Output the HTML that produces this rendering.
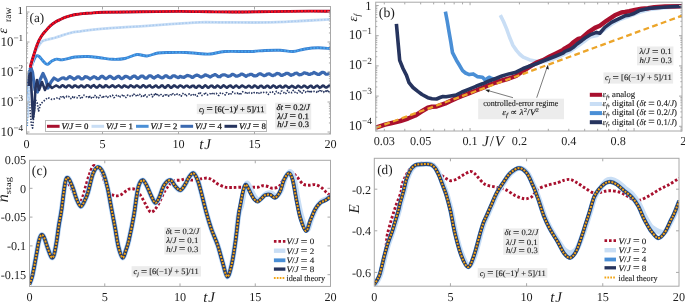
<!DOCTYPE html>
<html><head><meta charset="utf-8"><style>
html,body{margin:0;padding:0;background:#fff;}
body{width:685px;height:302px;overflow:hidden;font-family:"Liberation Serif",serif;}
svg{display:block;will-change:transform;text-rendering:geometricPrecision;}
</style></head><body>
<svg width="685" height="302" viewBox="0 0 685 302" font-family="Liberation Serif">
<rect width="685" height="302" fill="#fff"/>
<clipPath id="ca"><rect x="26.5" y="6.5" width="304.0" height="127.5"/></clipPath>
<g clip-path="url(#ca)">
<path d="M27.50,100.00 L28.50,92.00 L30.00,110.00 L31.50,125.00 L32.60,128.00 L33.80,115.00 L35.50,100.00 L37.20,103.00 L38.60,111.00 L40.50,104.00 L43.90,101.00 L47.80,97.60 L52.00,99.50 L56.00,98.50 L58.00,97.50 L58.80,98.11 L59.60,98.84 L60.40,97.00 L61.20,96.89 L62.00,96.41 L62.80,95.89 L63.60,98.50 L64.40,97.66 L65.20,97.46 L66.00,97.61 L66.80,96.19 L67.60,96.72 L68.40,96.48 L69.20,96.79 L70.00,97.24 L70.80,98.55 L71.60,96.98 L72.40,97.23 L73.20,96.28 L74.00,97.60 L74.80,97.11 L75.60,97.54 L76.40,97.44 L77.20,97.83 L78.00,96.71 L78.80,95.92 L79.60,95.88 L80.40,97.83 L81.20,98.87 L82.00,97.90 L82.80,95.97 L83.60,95.32 L84.40,95.30 L85.20,96.00 L86.00,96.50 L86.80,96.93 L87.60,97.82 L88.40,97.53 L89.20,95.47 L90.00,96.98 L90.80,96.58 L91.60,97.99 L92.40,98.52 L93.20,98.18 L94.00,95.57 L94.80,95.50 L95.60,96.16 L96.40,97.49 L97.20,96.50 L98.00,97.14 L98.80,97.78 L99.60,95.50 L100.40,95.51 L101.20,95.54 L102.00,96.92 L102.80,98.12 L103.60,96.75 L104.40,97.34 L105.20,96.51 L106.00,96.25 L106.80,95.91 L107.60,97.38 L108.40,96.91 L109.20,97.06 L110.00,96.09 L110.80,96.39 L111.60,95.40 L112.40,95.29 L113.20,95.84 L114.00,97.54 L114.80,97.27 L115.60,96.82 L116.40,95.39 L117.20,95.28 L118.00,95.01 L118.80,96.89 L119.60,96.05 L120.40,96.81 L121.20,96.68 L122.00,95.77 L122.80,94.39 L123.60,95.13 L124.40,97.12 L125.20,97.19 L126.00,97.44 L126.80,96.67 L127.60,95.12 L128.40,95.88 L129.20,96.09 L130.00,96.06 L130.80,96.52 L131.60,95.62 L132.40,95.49 L133.20,95.95 L134.00,94.20 L134.80,95.73 L135.60,95.56 L136.40,95.82 L137.20,96.56 L138.00,94.95 L138.80,93.96 L139.60,94.21 L140.40,95.85 L141.20,96.46 L142.00,95.54 L142.80,95.51 L143.60,96.17 L144.40,94.14 L145.20,94.96 L146.00,95.37 L146.80,96.79 L147.60,96.57 L148.40,96.40 L149.20,95.08 L150.00,93.92 L150.80,94.13 L151.60,94.66 L152.40,96.80 L153.20,95.42 L154.00,94.64 L154.80,95.73 L155.60,93.80 L156.40,95.50 L157.20,94.64 L158.00,96.00 L158.80,95.47 L159.60,96.02 L160.40,94.81 L161.20,94.56 L162.00,95.19 L162.80,96.18 L163.60,95.66 L164.40,96.05 L165.20,95.02 L166.00,93.60 L166.80,94.83 L167.60,94.81 L168.40,96.03 L169.20,95.28 L170.00,95.72 L170.80,94.82 L171.60,94.64 L172.40,93.21 L173.20,94.28 L174.00,95.33 L174.80,94.89 L175.60,95.55 L176.40,95.13 L177.20,93.85 L178.00,94.25 L178.80,94.77 L179.60,94.74 L180.40,95.32 L181.20,96.22 L182.00,94.10 L182.80,93.69 L183.60,93.04 L184.40,93.96 L185.20,94.58 L186.00,96.34 L186.80,95.46 L187.60,94.95 L188.40,94.63 L189.20,94.02 L190.00,95.36 L190.80,95.26 L191.60,95.16 L192.40,95.68 L193.20,94.78 L194.00,94.41 L194.80,93.70 L195.60,95.01 L196.40,94.93 L197.20,96.16 L198.00,95.40 L198.80,93.34 L199.60,94.24 L200.40,93.05 L201.20,93.63 L202.00,95.48 L202.80,94.58 L203.60,94.37 L204.40,93.83 L205.20,92.32 L206.00,94.12 L206.80,93.95 L207.60,94.80 L208.40,94.49 L209.20,94.58 L210.00,93.84 L210.80,92.70 L211.60,92.80 L212.40,93.96 L213.20,94.65 L214.00,93.76 L214.80,93.17 L215.60,93.67 L216.40,93.42 L217.20,94.50 L218.00,95.28 L218.80,95.47 L219.60,94.15 L220.40,92.95 L221.20,92.59 L222.00,92.85 L222.80,93.57 L223.60,94.36 L224.40,94.30 L225.20,94.90 L226.00,92.96 L226.80,92.72 L227.60,93.61 L228.40,94.10 L229.20,93.81 L230.00,93.93 L230.80,94.59 L231.60,92.19 L232.40,91.89 L233.20,92.83 L234.00,93.53 L234.80,93.48 L235.60,93.39 L236.40,93.16 L237.20,93.48 L238.00,92.41 L238.80,93.66 L239.60,94.00 L240.40,95.04 L241.20,93.20 L242.00,92.89 L242.80,91.75 L243.60,92.20 L244.40,92.32 L245.20,92.50 L246.00,94.09 L246.80,93.14 L247.60,92.92 L248.40,92.01 L249.20,92.81 L250.00,92.43 L250.80,92.89 L251.60,92.99 L252.40,93.63 L253.20,93.31 L254.00,92.66 L254.80,92.91 L255.60,93.17 L256.40,92.82 L257.20,93.07 L258.00,94.09 L258.80,93.40 L259.60,92.13 L260.40,92.64 L261.20,92.62 L262.00,92.85 L262.80,93.02 L263.60,92.41 L264.40,92.88 L265.20,92.72 L266.00,92.70 L266.80,92.42 L267.60,93.57 L268.40,94.41 L269.20,93.79 L270.00,92.56 L270.80,91.58 L271.60,91.84 L272.40,91.79 L273.20,92.55 L274.00,93.78 L274.80,93.93 L275.60,92.22 L276.40,91.41 L277.20,91.43 L278.00,92.33 L278.80,93.72 L279.60,93.16 L280.40,93.64 L281.20,91.22 L282.00,91.07 L282.80,91.71 L283.60,92.22 L284.40,93.75 L285.20,93.75 L286.00,93.35 L286.80,91.91 L287.60,90.36 L288.40,91.76 L289.20,92.46 L290.00,92.94 L290.80,92.48 L291.60,92.68 L292.40,92.30 L293.20,90.37 L294.00,91.90 L294.80,92.07 L295.60,92.89 L296.40,93.52 L297.20,92.94 L298.00,91.56 L298.80,90.44 L299.60,92.36 L300.40,91.66 L301.20,92.53 L302.00,93.20 L302.80,91.42 L303.60,90.62 L304.40,91.85 L305.20,92.37 L306.00,91.89 L306.80,92.43 L307.60,91.90 L308.40,90.82 L309.20,90.39 L310.00,91.81 L310.80,90.61 L311.60,91.66 L312.40,91.91 L313.20,91.28 L314.00,91.38 L314.80,91.21 L315.60,91.44 L316.40,91.68 L317.20,92.78 L318.00,91.38 L318.80,91.47 L319.60,92.02 L320.40,89.69 L321.20,90.23 L322.00,91.35 L322.80,91.62 L323.60,92.31 L324.40,90.78 L325.20,90.34 L326.00,91.32 L326.80,89.92 L327.60,92.17 L328.40,91.36 L329.20,93.04 L330.00,91.80" fill="none" stroke="#26345e" stroke-width="1.7" stroke-linejoin="round" stroke-dasharray="1.4 1.5"/>
<path d="M27.3,126 L27.6,100 L28.4,80 L29.3,68" fill="none" stroke="#4a8fd6" stroke-width="1.6" stroke-linejoin="round" stroke-dasharray="1.3 1.3"/>
<path d="M28.20,100.00 C28.37,97.50 28.90,88.67 29.20,85.00 C29.50,81.33 29.65,80.98 30.00,78.00 C30.35,75.02 30.65,70.13 31.30,67.10 C31.95,64.07 33.02,61.68 33.90,59.80 C34.78,57.92 35.72,56.35 36.60,55.80 C37.48,55.25 38.10,55.62 39.20,56.50 C40.30,57.38 41.87,59.78 43.20,61.10 C44.53,62.42 45.77,64.40 47.20,64.40 C48.63,64.40 50.25,61.98 51.80,61.10 C53.35,60.22 54.73,59.32 56.50,59.10 C58.27,58.88 59.32,60.15 62.40,59.80 C65.48,59.45 70.73,57.55 75.00,57.00 C79.27,56.45 83.83,56.37 88.00,56.50 C92.17,56.63 95.83,57.33 100.00,57.80 C104.17,58.27 108.83,59.18 113.00,59.30 C117.17,59.42 121.00,59.30 125.00,58.50 C129.00,57.70 133.33,54.92 137.00,54.50 C140.67,54.08 143.50,56.25 147.00,56.00 C150.50,55.75 154.17,53.58 158.00,53.00 C161.83,52.42 165.33,52.58 170.00,52.50 C174.67,52.42 181.33,52.33 186.00,52.50 C190.67,52.67 194.00,53.25 198.00,53.50 C202.00,53.75 205.50,54.33 210.00,54.00 C214.50,53.67 218.33,51.92 225.00,51.50 C231.67,51.08 243.33,51.67 250.00,51.50 C256.67,51.33 260.00,50.70 265.00,50.50 C270.00,50.30 275.33,50.13 280.00,50.30 C284.67,50.47 288.83,51.72 293.00,51.50 C297.17,51.28 300.83,49.62 305.00,49.00 C309.17,48.38 313.83,47.88 318.00,47.80 C322.17,47.72 328.00,48.38 330.00,48.50" fill="none" stroke="#3d82d2" stroke-width="2.9" stroke-linejoin="round" />
<path d="M28.20,100.00 C28.37,97.50 28.90,88.67 29.20,85.00 C29.50,81.33 29.65,80.98 30.00,78.00 C30.35,75.02 30.65,70.13 31.30,67.10 C31.95,64.07 33.02,61.68 33.90,59.80 C34.78,57.92 35.72,56.35 36.60,55.80 C37.48,55.25 38.10,55.62 39.20,56.50 C40.30,57.38 41.87,59.78 43.20,61.10 C44.53,62.42 45.77,64.40 47.20,64.40 C48.63,64.40 50.25,61.98 51.80,61.10 C53.35,60.22 54.73,59.32 56.50,59.10 C58.27,58.88 59.32,60.15 62.40,59.80 C65.48,59.45 70.73,57.55 75.00,57.00 C79.27,56.45 83.83,56.37 88.00,56.50 C92.17,56.63 95.83,57.33 100.00,57.80 C104.17,58.27 108.83,59.18 113.00,59.30 C117.17,59.42 121.00,59.30 125.00,58.50 C129.00,57.70 133.33,54.92 137.00,54.50 C140.67,54.08 143.50,56.25 147.00,56.00 C150.50,55.75 154.17,53.58 158.00,53.00 C161.83,52.42 165.33,52.58 170.00,52.50 C174.67,52.42 181.33,52.33 186.00,52.50 C190.67,52.67 194.00,53.25 198.00,53.50 C202.00,53.75 205.50,54.33 210.00,54.00 C214.50,53.67 218.33,51.92 225.00,51.50 C231.67,51.08 243.33,51.67 250.00,51.50 C256.67,51.33 260.00,50.70 265.00,50.50 C270.00,50.30 275.33,50.13 280.00,50.30 C284.67,50.47 288.83,51.72 293.00,51.50 C297.17,51.28 300.83,49.62 305.00,49.00 C309.17,48.38 313.83,47.88 318.00,47.80 C322.17,47.72 328.00,48.38 330.00,48.50" fill="none" stroke="#45a8f0" stroke-width="1.7" stroke-linejoin="round" stroke-dasharray="1.7 1.6"/>
<path d="M27.60,118.00 C27.75,114.67 28.10,104.67 28.50,98.00 C28.90,91.33 29.43,83.50 30.00,78.00 C30.57,72.50 31.13,69.13 31.90,65.00 C32.67,60.87 33.48,56.38 34.60,53.20 C35.72,50.02 37.28,47.90 38.60,45.90 C39.92,43.90 40.97,42.27 42.50,41.20 C44.03,40.13 45.58,40.12 47.80,39.50 C50.02,38.88 53.63,38.12 55.80,37.50 C57.97,36.88 58.32,36.58 60.80,35.80 C63.28,35.02 67.40,33.55 70.70,32.80 C74.00,32.05 76.80,31.83 80.60,31.30 C84.40,30.77 88.60,30.12 93.50,29.60 C98.40,29.08 102.25,28.75 110.00,28.20 C117.75,27.65 130.00,26.97 140.00,26.30 C150.00,25.63 162.33,24.73 170.00,24.20 C177.67,23.67 181.00,23.42 186.00,23.10 C191.00,22.78 192.67,22.42 200.00,22.30 C207.33,22.18 219.00,22.38 230.00,22.40 C241.00,22.42 254.33,22.63 266.00,22.40 C277.67,22.17 289.33,21.50 300.00,21.00 C310.67,20.50 325.00,19.67 330.00,19.40" fill="none" stroke="#c9def5" stroke-width="2.8" stroke-linejoin="round" />
<path d="M27.60,118.00 C27.75,114.67 28.10,104.67 28.50,98.00 C28.90,91.33 29.43,83.50 30.00,78.00 C30.57,72.50 31.13,69.13 31.90,65.00 C32.67,60.87 33.48,56.38 34.60,53.20 C35.72,50.02 37.28,47.90 38.60,45.90 C39.92,43.90 40.97,42.27 42.50,41.20 C44.03,40.13 45.58,40.12 47.80,39.50 C50.02,38.88 53.63,38.12 55.80,37.50 C57.97,36.88 58.32,36.58 60.80,35.80 C63.28,35.02 67.40,33.55 70.70,32.80 C74.00,32.05 76.80,31.83 80.60,31.30 C84.40,30.77 88.60,30.12 93.50,29.60 C98.40,29.08 102.25,28.75 110.00,28.20 C117.75,27.65 130.00,26.97 140.00,26.30 C150.00,25.63 162.33,24.73 170.00,24.20 C177.67,23.67 181.00,23.42 186.00,23.10 C191.00,22.78 192.67,22.42 200.00,22.30 C207.33,22.18 219.00,22.38 230.00,22.40 C241.00,22.42 254.33,22.63 266.00,22.40 C277.67,22.17 289.33,21.50 300.00,21.00 C310.67,20.50 325.00,19.67 330.00,19.40" fill="none" stroke="#a9caf0" stroke-width="1.6" stroke-linejoin="round" stroke-dasharray="1.6 1.7"/>
<path d="M28.60,84.00 L29.50,72.00 L31.00,68.00 L32.50,72.00 L35.00,90.00 L37.50,92.00 L40.00,80.00 L43.00,73.50 L46.00,80.00 L48.00,88.00 L51.00,82.00 L54.00,78.00 L58.00,80.50 L62.00,78.00 L64.00,77.84 L65.00,78.79 L66.00,79.00 L67.00,78.80 L68.00,78.03 L69.00,76.90 L70.00,76.54 L71.00,77.34 L72.00,77.76 L73.00,78.51 L74.00,79.28 L75.00,78.63 L76.00,78.06 L77.00,77.05 L78.00,76.81 L79.00,76.83 L80.00,77.89 L81.00,78.79 L82.00,78.90 L83.00,78.69 L84.00,77.86 L85.00,76.71 L86.00,76.79 L87.00,77.00 L88.00,77.59 L89.00,78.19 L90.00,79.01 L91.00,78.44 L92.00,77.79 L93.00,77.10 L94.00,76.67 L95.00,77.10 L96.00,77.55 L97.00,78.56 L98.00,78.66 L99.00,78.62 L100.00,77.79 L101.00,76.53 L102.00,76.22 L103.00,76.58 L104.00,77.80 L105.00,78.24 L106.00,78.67 L107.00,78.14 L108.00,77.47 L109.00,76.61 L110.00,76.26 L111.00,76.71 L112.00,77.47 L113.00,78.43 L114.00,78.61 L115.00,78.42 L116.00,77.59 L117.00,76.88 L118.00,76.35 L119.00,76.36 L120.00,77.54 L121.00,78.37 L122.00,78.64 L123.00,78.11 L124.00,77.40 L125.00,76.31 L126.00,76.35 L127.00,76.51 L128.00,77.10 L129.00,77.73 L130.00,78.52 L131.00,78.26 L132.00,76.93 L133.00,76.57 L134.00,76.00 L135.00,76.16 L136.00,77.01 L137.00,78.06 L138.00,78.43 L139.00,77.60 L140.00,77.15 L141.00,76.02 L142.00,76.09 L143.00,76.17 L144.00,77.26 L145.00,78.09 L146.00,78.11 L147.00,78.08 L148.00,76.87 L149.00,75.94 L150.00,75.92 L151.00,75.89 L152.00,76.76 L153.00,77.65 L154.00,78.08 L155.00,77.47 L156.00,76.62 L157.00,76.32 L158.00,75.65 L159.00,76.35 L160.00,77.08 L161.00,77.53 L162.00,77.89 L163.00,77.60 L164.00,76.88 L165.00,76.06 L166.00,75.70 L167.00,76.05 L168.00,77.01 L169.00,77.51 L170.00,77.78 L171.00,77.62 L172.00,76.54 L173.00,75.79 L174.00,75.86 L175.00,75.90 L176.00,76.68 L177.00,77.12 L178.00,77.67 L179.00,77.44 L180.00,76.31 L181.00,76.58 L182.00,77.21 L183.00,77.13 L184.00,77.39 L185.00,76.73 L186.00,76.18 L187.00,75.40 L188.00,75.51 L189.00,75.85 L190.00,75.97 L191.00,76.62 L192.00,77.37 L193.00,77.43 L194.00,76.39 L195.00,75.83 L196.00,75.38 L197.00,75.05 L198.00,75.40 L199.00,75.98 L200.00,76.64 L201.00,77.12 L202.00,76.78 L203.00,76.28 L204.00,75.85 L205.00,74.79 L206.00,75.03 L207.00,75.46 L208.00,75.79 L209.00,76.35 L210.00,77.07 L211.00,76.54 L212.00,75.96 L213.00,75.43 L214.00,75.06 L215.00,74.51 L216.00,74.98 L217.00,75.61 L218.00,76.58 L219.00,76.63 L220.00,76.78 L221.00,75.75 L222.00,75.16 L223.00,74.84 L224.00,74.86 L225.00,74.88 L226.00,75.34 L227.00,75.89 L228.00,76.50 L229.00,76.12 L230.00,76.00 L231.00,75.32 L232.00,74.32 L233.00,74.24 L234.00,74.93 L235.00,75.44 L236.00,76.18 L237.00,76.17 L238.00,75.88 L239.00,75.45 L240.00,75.10 L241.00,74.19 L242.00,74.10 L243.00,74.47 L244.00,75.09 L245.00,75.70 L246.00,76.38 L247.00,75.71 L248.00,75.06 L249.00,75.01 L250.00,74.42 L251.00,74.35 L252.00,74.29 L253.00,75.27 L254.00,75.87 L255.00,75.70 L256.00,75.93 L257.00,75.45 L258.00,74.62 L259.00,73.97 L260.00,73.67 L261.00,74.03 L262.00,74.57 L263.00,75.08 L264.00,75.76 L265.00,75.41 L266.00,75.23 L267.00,73.99 L268.00,74.05 L269.00,73.76 L270.00,74.24 L271.00,74.84 L272.00,75.47 L273.00,75.56 L274.00,75.03 L275.00,74.99 L276.00,73.89 L277.00,73.43 L278.00,73.55 L279.00,73.77 L280.00,74.31 L281.00,75.30 L282.00,75.39 L283.00,75.06 L284.00,74.46 L285.00,74.18 L286.00,73.36 L287.00,73.44 L288.00,73.46 L289.00,73.97 L290.00,74.83 L291.00,75.34 L292.00,74.75 L293.00,74.64 L294.00,74.03 L295.00,73.40 L296.00,73.27 L297.00,73.02 L298.00,74.08 L299.00,74.86 L300.00,74.61 L301.00,74.63 L302.00,74.08 L303.00,73.56 L304.00,72.94 L305.00,72.83 L306.00,73.37 L307.00,73.45 L308.00,74.10 L309.00,74.47 L310.00,74.33 L311.00,73.75 L312.00,73.68 L313.00,73.05 L314.00,72.37 L315.00,72.98 L316.00,73.47 L317.00,74.09 L318.00,74.44 L319.00,74.51 L320.00,73.92 L321.00,73.05 L322.00,72.39 L323.00,72.35 L324.00,72.52 L325.00,73.45 L326.00,74.18 L327.00,74.27 L328.00,73.91 L329.00,73.44 L330.00,72.87" fill="none" stroke="#3b69b0" stroke-width="3.2" stroke-linejoin="round" />
<path d="M28.60,86.00 L29.30,76.00 L30.60,73.00 L32.00,100.00 L33.00,118.00 L34.20,110.00 L35.50,88.00 L37.00,80.00 L39.00,90.00 L42.00,82.00 L45.00,90.00 L48.00,84.00 L52.00,88.00 L56.00,85.50 L58.00,86.36 L58.80,87.20 L59.60,87.23 L60.40,87.14 L61.20,86.28 L62.00,85.48 L62.80,85.24 L63.60,85.74 L64.40,86.63 L65.20,87.11 L66.00,87.40 L66.80,86.78 L67.60,85.87 L68.40,85.44 L69.20,85.50 L70.00,85.67 L70.80,86.67 L71.60,87.22 L72.40,87.45 L73.20,86.89 L74.00,85.77 L74.80,85.60 L75.60,85.66 L76.40,85.99 L77.20,86.89 L78.00,87.10 L78.80,87.32 L79.60,86.54 L80.40,85.92 L81.20,85.52 L82.00,85.72 L82.80,86.49 L83.60,87.11 L84.40,87.11 L85.20,87.05 L86.00,85.95 L86.80,85.35 L87.60,85.53 L88.40,85.51 L89.20,86.31 L90.00,86.97 L90.80,87.56 L91.60,86.65 L92.40,85.78 L93.20,85.67 L94.00,85.20 L94.80,86.18 L95.60,86.87 L96.40,87.51 L97.20,87.54 L98.00,86.72 L98.80,86.07 L99.60,85.13 L100.40,85.69 L101.20,86.18 L102.00,87.08 L102.80,87.13 L103.60,87.32 L104.40,86.75 L105.20,85.47 L106.00,85.28 L106.80,85.70 L107.60,86.59 L108.40,86.96 L109.20,87.20 L110.00,86.90 L110.80,86.37 L111.60,85.76 L112.40,85.35 L113.20,85.75 L114.00,86.54 L114.80,87.16 L115.60,87.32 L116.40,86.64 L117.20,86.11 L118.00,85.80 L118.80,85.42 L119.60,86.17 L120.40,86.61 L121.20,87.47 L122.00,87.47 L122.80,86.82 L123.60,85.95 L124.40,85.44 L125.20,85.66 L126.00,86.46 L126.80,86.79 L127.60,87.17 L128.40,87.37 L129.20,86.78 L130.00,85.79 L130.80,85.40 L131.60,85.84 L132.40,86.25 L133.20,87.02 L134.00,87.26 L134.80,87.14 L135.60,86.23 L136.40,85.49 L137.20,85.57 L138.00,86.15 L138.80,86.53 L139.60,87.42 L140.40,87.37 L141.20,87.15 L142.00,86.21 L142.80,85.42 L143.60,85.35 L144.40,85.78 L145.20,86.84 L146.00,87.33 L146.80,87.16 L147.60,86.68 L148.40,85.87 L149.20,85.66 L150.00,85.41 L150.80,86.56 L151.60,87.03 L152.40,87.52 L153.20,87.25 L154.00,86.78 L154.80,86.02 L155.60,85.51 L156.40,85.74 L157.20,86.61 L158.00,87.42 L158.80,87.42 L159.60,87.28 L160.40,86.66 L161.20,85.68 L162.00,85.34 L162.80,85.76 L163.60,86.83 L164.40,87.45 L165.20,87.74 L166.00,87.20 L166.80,86.05 L167.60,85.42 L168.40,85.42 L169.20,85.92 L170.00,87.02 L170.80,87.66 L171.60,87.65 L172.40,86.66 L173.20,86.25 L174.00,85.43 L174.80,85.62 L175.60,86.45 L176.40,86.84 L177.20,87.26 L178.00,87.51 L178.80,86.50 L179.60,85.79 L180.40,85.57 L181.20,85.91 L182.00,86.23 L182.80,87.16 L183.60,87.49 L184.40,87.18 L185.20,86.26 L186.00,85.80 L186.80,85.82 L187.60,85.90 L188.40,86.77 L189.20,87.16 L190.00,87.38 L190.80,87.13 L191.60,86.01 L192.40,85.88 L193.20,85.86 L194.00,85.91 L194.80,87.21 L195.60,87.42 L196.40,87.62 L197.20,87.01 L198.00,85.95 L198.80,85.70 L199.60,85.80 L200.40,86.54 L201.20,86.99 L202.00,87.71 L202.80,87.63 L203.60,86.77 L204.40,85.94 L205.20,85.34 L206.00,85.84 L206.80,86.48 L207.60,87.43 L208.40,87.68 L209.20,87.27 L210.00,86.29 L210.80,85.88 L211.60,85.67 L212.40,85.82 L213.20,87.02 L214.00,87.53 L214.80,87.33 L215.60,87.33 L216.40,86.08 L217.20,85.59 L218.00,85.79 L218.80,86.26 L219.60,87.02 L220.40,87.62 L221.20,87.47 L222.00,86.79 L222.80,85.92 L223.60,85.38 L224.40,85.89 L225.20,86.56 L226.00,87.21 L226.80,87.74 L227.60,87.32 L228.40,86.57 L229.20,85.89 L230.00,85.84 L230.80,85.62 L231.60,86.62 L232.40,87.19 L233.20,87.78 L234.00,87.19 L234.80,86.42 L235.60,85.78 L236.40,85.66 L237.20,86.22 L238.00,86.74 L238.80,87.69 L239.60,87.37 L240.40,86.98 L241.20,86.10 L242.00,85.51 L242.80,85.87 L243.60,86.38 L244.40,86.85 L245.20,87.40 L246.00,87.49 L246.80,87.09 L247.60,86.35 L248.40,85.83 L249.20,85.86 L250.00,86.24 L250.80,87.16 L251.60,87.46 L252.40,87.46 L253.20,86.80 L254.00,85.83 L254.80,85.51 L255.60,86.11 L256.40,86.38 L257.20,87.57 L258.00,87.90 L258.80,87.59 L259.60,86.50 L260.40,85.91 L261.20,85.73 L262.00,86.18 L262.80,87.16 L263.60,87.64 L264.40,87.53 L265.20,87.38 L266.00,86.37 L266.80,85.85 L267.60,85.88 L268.40,85.99 L269.20,87.24 L270.00,87.72 L270.80,87.58 L271.60,87.01 L272.40,86.19 L273.20,85.54 L274.00,85.87 L274.80,86.22 L275.60,87.27 L276.40,87.78 L277.20,87.46 L278.00,86.85 L278.80,86.33 L279.60,85.94 L280.40,85.77 L281.20,86.89 L282.00,87.51 L282.80,87.44 L283.60,87.28 L284.40,86.46 L285.20,85.67 L286.00,85.75 L286.80,86.41 L287.60,86.82 L288.40,87.79 L289.20,87.81 L290.00,86.99 L290.80,86.64 L291.60,85.89 L292.40,86.05 L293.20,86.47 L294.00,87.27 L294.80,87.58 L295.60,87.82 L296.40,87.30 L297.20,86.47 L298.00,85.74 L298.80,86.05 L299.60,86.53 L300.40,87.08 L301.20,87.46 L302.00,87.29 L302.80,86.67 L303.60,85.90 L304.40,85.75 L305.20,86.15 L306.00,86.78 L306.80,87.44 L307.60,87.85 L308.40,87.29 L309.20,86.64 L310.00,86.13 L310.80,85.72 L311.60,86.00 L312.40,87.21 L313.20,87.75 L314.00,87.66 L314.80,87.18 L315.60,86.49 L316.40,85.94 L317.20,85.67 L318.00,86.09 L318.80,87.00 L319.60,87.89 L320.40,87.47 L321.20,87.06 L322.00,86.12 L322.80,85.64 L323.60,85.74 L324.40,86.53 L325.20,87.16 L326.00,87.50 L326.80,87.35 L327.60,86.70 L328.40,86.14 L329.20,85.54 L330.00,85.79" fill="none" stroke="#26345e" stroke-width="2.6" stroke-linejoin="round" />
<path d="M30.30,67.50 C30.40,67.00 30.30,66.67 30.90,64.50 C31.50,62.33 32.85,57.83 33.90,54.50 C34.95,51.17 35.98,47.50 37.20,44.50 C38.42,41.50 39.75,38.82 41.20,36.50 C42.65,34.18 44.30,32.45 45.90,30.60 C47.50,28.75 49.15,26.88 50.80,25.40 C52.45,23.92 54.13,22.72 55.80,21.70 C57.47,20.68 59.15,20.05 60.80,19.30 C62.45,18.55 64.05,17.82 65.70,17.20 C67.35,16.58 69.03,16.05 70.70,15.60 C72.37,15.15 73.72,14.83 75.70,14.50 C77.68,14.17 80.13,13.83 82.60,13.60 C85.07,13.37 87.10,13.32 90.50,13.10 C93.90,12.88 94.75,12.52 103.00,12.30 C111.25,12.08 127.17,11.95 140.00,11.80 C152.83,11.65 168.33,11.40 180.00,11.40 C191.67,11.40 200.00,11.70 210.00,11.80 C220.00,11.90 230.00,12.03 240.00,12.00 C250.00,11.97 258.33,11.75 270.00,11.60 C281.67,11.45 300.00,11.15 310.00,11.10 C320.00,11.05 326.67,11.27 330.00,11.30" fill="none" stroke="#8a0c30" stroke-width="2.9" stroke-linejoin="round" />
<path d="M30.30,67.50 C30.40,67.00 30.30,66.67 30.90,64.50 C31.50,62.33 32.85,57.83 33.90,54.50 C34.95,51.17 35.98,47.50 37.20,44.50 C38.42,41.50 39.75,38.82 41.20,36.50 C42.65,34.18 44.30,32.45 45.90,30.60 C47.50,28.75 49.15,26.88 50.80,25.40 C52.45,23.92 54.13,22.72 55.80,21.70 C57.47,20.68 59.15,20.05 60.80,19.30 C62.45,18.55 64.05,17.82 65.70,17.20 C67.35,16.58 69.03,16.05 70.70,15.60 C72.37,15.15 73.72,14.83 75.70,14.50 C77.68,14.17 80.13,13.83 82.60,13.60 C85.07,13.37 87.10,13.32 90.50,13.10 C93.90,12.88 94.75,12.52 103.00,12.30 C111.25,12.08 127.17,11.95 140.00,11.80 C152.83,11.65 168.33,11.40 180.00,11.40 C191.67,11.40 200.00,11.70 210.00,11.80 C220.00,11.90 230.00,12.03 240.00,12.00 C250.00,11.97 258.33,11.75 270.00,11.60 C281.67,11.45 300.00,11.15 310.00,11.10 C320.00,11.05 326.67,11.27 330.00,11.30" fill="none" stroke="#ff0a1a" stroke-width="2.3" stroke-linejoin="round" stroke-dasharray="2.1 1.2"/>
</g>
<rect x="26.5" y="6.5" width="304.00" height="127.50" fill="none" stroke="#a8a8a8" stroke-width="1"/>
<line x1="102.50" y1="134.00" x2="102.50" y2="131.00" stroke="#a8a8a8" stroke-width="1" />
<line x1="102.50" y1="6.50" x2="102.50" y2="9.50" stroke="#a8a8a8" stroke-width="1" />
<line x1="178.50" y1="134.00" x2="178.50" y2="131.00" stroke="#a8a8a8" stroke-width="1" />
<line x1="178.50" y1="6.50" x2="178.50" y2="9.50" stroke="#a8a8a8" stroke-width="1" />
<line x1="254.50" y1="134.00" x2="254.50" y2="131.00" stroke="#a8a8a8" stroke-width="1" />
<line x1="254.50" y1="6.50" x2="254.50" y2="9.50" stroke="#a8a8a8" stroke-width="1" />
<line x1="26.50" y1="12.00" x2="29.50" y2="12.00" stroke="#a8a8a8" stroke-width="1" />
<line x1="330.50" y1="12.00" x2="327.50" y2="12.00" stroke="#a8a8a8" stroke-width="1" />
<line x1="26.50" y1="42.00" x2="29.50" y2="42.00" stroke="#a8a8a8" stroke-width="1" />
<line x1="330.50" y1="42.00" x2="327.50" y2="42.00" stroke="#a8a8a8" stroke-width="1" />
<line x1="26.50" y1="32.97" x2="28.10" y2="32.97" stroke="#a8a8a8" stroke-width="1" />
<line x1="330.50" y1="32.97" x2="328.90" y2="32.97" stroke="#a8a8a8" stroke-width="1" />
<line x1="26.50" y1="27.69" x2="28.10" y2="27.69" stroke="#a8a8a8" stroke-width="1" />
<line x1="330.50" y1="27.69" x2="328.90" y2="27.69" stroke="#a8a8a8" stroke-width="1" />
<line x1="26.50" y1="23.94" x2="28.10" y2="23.94" stroke="#a8a8a8" stroke-width="1" />
<line x1="330.50" y1="23.94" x2="328.90" y2="23.94" stroke="#a8a8a8" stroke-width="1" />
<line x1="26.50" y1="21.03" x2="28.10" y2="21.03" stroke="#a8a8a8" stroke-width="1" />
<line x1="330.50" y1="21.03" x2="328.90" y2="21.03" stroke="#a8a8a8" stroke-width="1" />
<line x1="26.50" y1="18.66" x2="28.10" y2="18.66" stroke="#a8a8a8" stroke-width="1" />
<line x1="330.50" y1="18.66" x2="328.90" y2="18.66" stroke="#a8a8a8" stroke-width="1" />
<line x1="26.50" y1="16.65" x2="28.10" y2="16.65" stroke="#a8a8a8" stroke-width="1" />
<line x1="330.50" y1="16.65" x2="328.90" y2="16.65" stroke="#a8a8a8" stroke-width="1" />
<line x1="26.50" y1="14.91" x2="28.10" y2="14.91" stroke="#a8a8a8" stroke-width="1" />
<line x1="330.50" y1="14.91" x2="328.90" y2="14.91" stroke="#a8a8a8" stroke-width="1" />
<line x1="26.50" y1="13.37" x2="28.10" y2="13.37" stroke="#a8a8a8" stroke-width="1" />
<line x1="330.50" y1="13.37" x2="328.90" y2="13.37" stroke="#a8a8a8" stroke-width="1" />
<line x1="26.50" y1="72.00" x2="29.50" y2="72.00" stroke="#a8a8a8" stroke-width="1" />
<line x1="330.50" y1="72.00" x2="327.50" y2="72.00" stroke="#a8a8a8" stroke-width="1" />
<line x1="26.50" y1="62.97" x2="28.10" y2="62.97" stroke="#a8a8a8" stroke-width="1" />
<line x1="330.50" y1="62.97" x2="328.90" y2="62.97" stroke="#a8a8a8" stroke-width="1" />
<line x1="26.50" y1="57.69" x2="28.10" y2="57.69" stroke="#a8a8a8" stroke-width="1" />
<line x1="330.50" y1="57.69" x2="328.90" y2="57.69" stroke="#a8a8a8" stroke-width="1" />
<line x1="26.50" y1="53.94" x2="28.10" y2="53.94" stroke="#a8a8a8" stroke-width="1" />
<line x1="330.50" y1="53.94" x2="328.90" y2="53.94" stroke="#a8a8a8" stroke-width="1" />
<line x1="26.50" y1="51.03" x2="28.10" y2="51.03" stroke="#a8a8a8" stroke-width="1" />
<line x1="330.50" y1="51.03" x2="328.90" y2="51.03" stroke="#a8a8a8" stroke-width="1" />
<line x1="26.50" y1="48.66" x2="28.10" y2="48.66" stroke="#a8a8a8" stroke-width="1" />
<line x1="330.50" y1="48.66" x2="328.90" y2="48.66" stroke="#a8a8a8" stroke-width="1" />
<line x1="26.50" y1="46.65" x2="28.10" y2="46.65" stroke="#a8a8a8" stroke-width="1" />
<line x1="330.50" y1="46.65" x2="328.90" y2="46.65" stroke="#a8a8a8" stroke-width="1" />
<line x1="26.50" y1="44.91" x2="28.10" y2="44.91" stroke="#a8a8a8" stroke-width="1" />
<line x1="330.50" y1="44.91" x2="328.90" y2="44.91" stroke="#a8a8a8" stroke-width="1" />
<line x1="26.50" y1="43.37" x2="28.10" y2="43.37" stroke="#a8a8a8" stroke-width="1" />
<line x1="330.50" y1="43.37" x2="328.90" y2="43.37" stroke="#a8a8a8" stroke-width="1" />
<line x1="26.50" y1="102.00" x2="29.50" y2="102.00" stroke="#a8a8a8" stroke-width="1" />
<line x1="330.50" y1="102.00" x2="327.50" y2="102.00" stroke="#a8a8a8" stroke-width="1" />
<line x1="26.50" y1="92.97" x2="28.10" y2="92.97" stroke="#a8a8a8" stroke-width="1" />
<line x1="330.50" y1="92.97" x2="328.90" y2="92.97" stroke="#a8a8a8" stroke-width="1" />
<line x1="26.50" y1="87.69" x2="28.10" y2="87.69" stroke="#a8a8a8" stroke-width="1" />
<line x1="330.50" y1="87.69" x2="328.90" y2="87.69" stroke="#a8a8a8" stroke-width="1" />
<line x1="26.50" y1="83.94" x2="28.10" y2="83.94" stroke="#a8a8a8" stroke-width="1" />
<line x1="330.50" y1="83.94" x2="328.90" y2="83.94" stroke="#a8a8a8" stroke-width="1" />
<line x1="26.50" y1="81.03" x2="28.10" y2="81.03" stroke="#a8a8a8" stroke-width="1" />
<line x1="330.50" y1="81.03" x2="328.90" y2="81.03" stroke="#a8a8a8" stroke-width="1" />
<line x1="26.50" y1="78.66" x2="28.10" y2="78.66" stroke="#a8a8a8" stroke-width="1" />
<line x1="330.50" y1="78.66" x2="328.90" y2="78.66" stroke="#a8a8a8" stroke-width="1" />
<line x1="26.50" y1="76.65" x2="28.10" y2="76.65" stroke="#a8a8a8" stroke-width="1" />
<line x1="330.50" y1="76.65" x2="328.90" y2="76.65" stroke="#a8a8a8" stroke-width="1" />
<line x1="26.50" y1="74.91" x2="28.10" y2="74.91" stroke="#a8a8a8" stroke-width="1" />
<line x1="330.50" y1="74.91" x2="328.90" y2="74.91" stroke="#a8a8a8" stroke-width="1" />
<line x1="26.50" y1="73.37" x2="28.10" y2="73.37" stroke="#a8a8a8" stroke-width="1" />
<line x1="330.50" y1="73.37" x2="328.90" y2="73.37" stroke="#a8a8a8" stroke-width="1" />
<line x1="26.50" y1="132.00" x2="29.50" y2="132.00" stroke="#a8a8a8" stroke-width="1" />
<line x1="330.50" y1="132.00" x2="327.50" y2="132.00" stroke="#a8a8a8" stroke-width="1" />
<line x1="26.50" y1="122.97" x2="28.10" y2="122.97" stroke="#a8a8a8" stroke-width="1" />
<line x1="330.50" y1="122.97" x2="328.90" y2="122.97" stroke="#a8a8a8" stroke-width="1" />
<line x1="26.50" y1="117.69" x2="28.10" y2="117.69" stroke="#a8a8a8" stroke-width="1" />
<line x1="330.50" y1="117.69" x2="328.90" y2="117.69" stroke="#a8a8a8" stroke-width="1" />
<line x1="26.50" y1="113.94" x2="28.10" y2="113.94" stroke="#a8a8a8" stroke-width="1" />
<line x1="330.50" y1="113.94" x2="328.90" y2="113.94" stroke="#a8a8a8" stroke-width="1" />
<line x1="26.50" y1="111.03" x2="28.10" y2="111.03" stroke="#a8a8a8" stroke-width="1" />
<line x1="330.50" y1="111.03" x2="328.90" y2="111.03" stroke="#a8a8a8" stroke-width="1" />
<line x1="26.50" y1="108.66" x2="28.10" y2="108.66" stroke="#a8a8a8" stroke-width="1" />
<line x1="330.50" y1="108.66" x2="328.90" y2="108.66" stroke="#a8a8a8" stroke-width="1" />
<line x1="26.50" y1="106.65" x2="28.10" y2="106.65" stroke="#a8a8a8" stroke-width="1" />
<line x1="330.50" y1="106.65" x2="328.90" y2="106.65" stroke="#a8a8a8" stroke-width="1" />
<line x1="26.50" y1="104.91" x2="28.10" y2="104.91" stroke="#a8a8a8" stroke-width="1" />
<line x1="330.50" y1="104.91" x2="328.90" y2="104.91" stroke="#a8a8a8" stroke-width="1" />
<line x1="26.50" y1="103.37" x2="28.10" y2="103.37" stroke="#a8a8a8" stroke-width="1" />
<line x1="330.50" y1="103.37" x2="328.90" y2="103.37" stroke="#a8a8a8" stroke-width="1" />
<line x1="26.50" y1="133.37" x2="28.10" y2="133.37" stroke="#a8a8a8" stroke-width="1" />
<line x1="330.50" y1="133.37" x2="328.90" y2="133.37" stroke="#a8a8a8" stroke-width="1" />
<text x="26.50" y="148.30" font-size="12.2" text-anchor="middle" fill="#1e1e1e" ><tspan dy="-0.00">0</tspan></text>
<text x="102.50" y="148.30" font-size="12.2" text-anchor="middle" fill="#1e1e1e" ><tspan dy="-0.00">5</tspan></text>
<text x="178.50" y="148.30" font-size="12.2" text-anchor="middle" fill="#1e1e1e" ><tspan dy="-0.00">10</tspan></text>
<text x="254.50" y="148.30" font-size="12.2" text-anchor="middle" fill="#1e1e1e" ><tspan dy="-0.00">15</tspan></text>
<text x="330.50" y="148.30" font-size="12.2" text-anchor="middle" fill="#1e1e1e" ><tspan dy="-0.00">20</tspan></text>
<text x="205.50" y="149.20" font-size="15" text-anchor="middle" fill="#1e1e1e" letter-spacing="0.8"><tspan dy="-0.00" font-style="italic">t</tspan><tspan dy="0.00" font-style="italic">J</tspan></text>
<text x="23.00" y="14.40" font-size="10.8" text-anchor="end" fill="#1e1e1e" ><tspan dy="-0.00">1</tspan></text>
<text x="23.20" y="46.30" font-size="13" text-anchor="end" fill="#1e1e1e" ><tspan dy="-0.00">10</tspan><tspan dy="-5.20" font-size="9.20">−1</tspan></text>
<text x="23.20" y="76.30" font-size="13" text-anchor="end" fill="#1e1e1e" ><tspan dy="-0.00">10</tspan><tspan dy="-5.20" font-size="9.20">−2</tspan></text>
<text x="23.20" y="106.30" font-size="13" text-anchor="end" fill="#1e1e1e" ><tspan dy="-0.00">10</tspan><tspan dy="-5.20" font-size="9.20">−3</tspan></text>
<text x="23.20" y="136.30" font-size="13" text-anchor="end" fill="#1e1e1e" ><tspan dy="-0.00">10</tspan><tspan dy="-5.20" font-size="9.20">−4</tspan></text>
<text x="29.60" y="22.10" font-size="13.2" text-anchor="start" fill="#1e1e1e" ><tspan dy="-0.00">(a)</tspan></text>
<text transform="translate(7.30,33.40) rotate(-90)" font-size="13.5" fill="#1e1e1e"><tspan dy="-0.00" font-style="italic">ε</tspan></text>
<text transform="translate(10.80,22.00) rotate(-90)" font-size="9.6" fill="#111"><tspan dy="-0.00">raw</tspan></text>
<rect x="45.5" y="120.5" width="221" height="11" fill="#fff" stroke="#b8b8b8" stroke-width="1"/>
<line x1="47.00" y1="126.30" x2="59.60" y2="126.30" stroke="#a8102e" stroke-width="3" />
<text x="61.40" y="129.00" font-size="8.3" text-anchor="start" fill="#1a1a1a" textLength="27.0" lengthAdjust="spacingAndGlyphs"  stroke="#1a1a1a" stroke-width="0.25"><tspan dy="-0.00" font-style="italic">V</tspan><tspan dy="0.00">/</tspan><tspan dy="0.00" font-style="italic">J</tspan><tspan dy="0.00">&#160;</tspan><tspan font-size="10.79" dy="0.4">=</tspan><tspan dy="-0.4">&#160;0</tspan></text>
<line x1="91.50" y1="126.30" x2="104.10" y2="126.30" stroke="#c9def5" stroke-width="3" />
<text x="105.90" y="129.00" font-size="8.3" text-anchor="start" fill="#1a1a1a" textLength="27.0" lengthAdjust="spacingAndGlyphs"  stroke="#1a1a1a" stroke-width="0.25"><tspan dy="-0.00" font-style="italic">V</tspan><tspan dy="0.00">/</tspan><tspan dy="0.00" font-style="italic">J</tspan><tspan dy="0.00">&#160;</tspan><tspan font-size="10.79" dy="0.4">=</tspan><tspan dy="-0.4">&#160;1</tspan></text>
<line x1="136.00" y1="126.30" x2="148.60" y2="126.30" stroke="#4a8fd6" stroke-width="3" />
<text x="150.40" y="129.00" font-size="8.3" text-anchor="start" fill="#1a1a1a" textLength="27.0" lengthAdjust="spacingAndGlyphs"  stroke="#1a1a1a" stroke-width="0.25"><tspan dy="-0.00" font-style="italic">V</tspan><tspan dy="0.00">/</tspan><tspan dy="0.00" font-style="italic">J</tspan><tspan dy="0.00">&#160;</tspan><tspan font-size="10.79" dy="0.4">=</tspan><tspan dy="-0.4">&#160;2</tspan></text>
<line x1="180.50" y1="126.30" x2="193.10" y2="126.30" stroke="#3b69b0" stroke-width="3" />
<text x="194.90" y="129.00" font-size="8.3" text-anchor="start" fill="#1a1a1a" textLength="27.0" lengthAdjust="spacingAndGlyphs"  stroke="#1a1a1a" stroke-width="0.25"><tspan dy="-0.00" font-style="italic">V</tspan><tspan dy="0.00">/</tspan><tspan dy="0.00" font-style="italic">J</tspan><tspan dy="0.00">&#160;</tspan><tspan font-size="10.79" dy="0.4">=</tspan><tspan dy="-0.4">&#160;4</tspan></text>
<line x1="224.50" y1="126.30" x2="237.10" y2="126.30" stroke="#26345e" stroke-width="3" />
<text x="238.90" y="129.00" font-size="8.3" text-anchor="start" fill="#1a1a1a" textLength="27.0" lengthAdjust="spacingAndGlyphs"  stroke="#1a1a1a" stroke-width="0.25"><tspan dy="-0.00" font-style="italic">V</tspan><tspan dy="0.00">/</tspan><tspan dy="0.00" font-style="italic">J</tspan><tspan dy="0.00">&#160;</tspan><tspan font-size="10.79" dy="0.4">=</tspan><tspan dy="-0.4">&#160;8</tspan></text>
<rect x="196.80" y="103.90" width="69.50" height="10.20" fill="#ececec"/>
<text x="198.90" y="111.70" font-size="8.3" text-anchor="start" fill="#1a1a1a" textLength="65.49999999999997" lengthAdjust="spacingAndGlyphs"  stroke="#1a1a1a" stroke-width="0.25"><tspan dy="-0.00" font-style="italic">c</tspan><tspan dy="1.60" font-size="6.00" font-style="italic">j</tspan><tspan dy="-1.60">&#160;</tspan><tspan font-size="10.79" dy="0.4">=</tspan><tspan dy="-0.4">&#160;[6(−1)</tspan><tspan dy="-3.20" font-size="6.00" font-style="italic">j</tspan><tspan dy="3.20">&#160;+&#160;5]/11</tspan></text>
<rect x="275.20" y="102.70" width="36.00" height="26.80" fill="#ececec"/>
<text x="276.50" y="109.90" font-size="8.3" text-anchor="start" fill="#1a1a1a" textLength="33.30000000000001" lengthAdjust="spacingAndGlyphs"  stroke="#1a1a1a" stroke-width="0.25"><tspan dy="-0.00" font-style="italic">δ</tspan><tspan dy="0.00" font-style="italic">t</tspan><tspan dy="0.00">&#160;</tspan><tspan font-size="10.79" dy="0.4">=</tspan><tspan dy="-0.4">&#160;0.2/</tspan><tspan dy="0.00" font-style="italic">J</tspan></text>
<text x="277.30" y="119.00" font-size="8.3" text-anchor="start" fill="#1a1a1a" textLength="31.599999999999966" lengthAdjust="spacingAndGlyphs"  stroke="#1a1a1a" stroke-width="0.25"><tspan dy="-0.00" font-style="italic">λ</tspan><tspan dy="0.00">/</tspan><tspan dy="0.00" font-style="italic">J</tspan><tspan dy="0.00">&#160;</tspan><tspan font-size="10.79" dy="0.4">=</tspan><tspan dy="-0.4">&#160;0.1</tspan></text>
<text x="277.30" y="127.40" font-size="8.3" text-anchor="start" fill="#1a1a1a" textLength="31.599999999999966" lengthAdjust="spacingAndGlyphs"  stroke="#1a1a1a" stroke-width="0.25"><tspan dy="-0.00" font-style="italic">h</tspan><tspan dy="0.00">/</tspan><tspan dy="0.00" font-style="italic">J</tspan><tspan dy="0.00">&#160;</tspan><tspan font-size="10.79" dy="0.4">=</tspan><tspan dy="-0.4">&#160;0.3</tspan></text>
<clipPath id="cb"><rect x="375.7" y="2.2" width="306.3" height="128.8"/></clipPath>
<g clip-path="url(#cb)">
<path d="M500.30,15.10 L503.50,21.50 L506.60,28.90 L509.50,37.00 L512.90,45.30 L516.60,50.60 L520.00,54.50 L523.20,57.20 L529.90,59.90 L536.50,61.20 L541.00,62.00 L545.00,61.50 L552.00,59.50 L560.00,56.50 L570.00,51.50 L580.00,44.50 L590.00,37.00 L597.00,35.50 L605.00,29.00 L612.00,24.00 L620.00,19.50 L630.00,16.00 L640.00,12.00 L650.00,9.50 L665.00,7.80 L682.00,6.80" fill="none" stroke="#c9def5" stroke-width="3.6" stroke-linejoin="round" />
<path d="M445.40,11.60 L447.20,21.00 L449.00,31.80 L450.80,42.00 L452.50,52.70 L456.40,60.20 L459.00,64.50 L462.60,70.60 L465.50,73.00 L469.20,74.60 L473.20,73.90 L477.20,76.60 L482.50,77.20 L485.10,79.90 L489.10,77.20 L491.80,78.50 L496.00,79.50 L500.00,79.00" fill="none" stroke="#4a8fd6" stroke-width="3.6" stroke-linejoin="round" />
<path d="M375.90,127.60 L385.00,124.60 L392.00,123.00 L400.20,121.00 L408.00,118.50 L415.30,115.50 L421.00,111.80 L427.80,107.80 L432.00,106.80 L436.60,106.50 L441.00,104.80 L445.40,103.40 L451.00,100.80 L456.00,98.40 L462.00,96.00 L469.20,93.10 L476.00,90.50 L482.50,87.80 L489.00,85.00 L495.70,82.50 L502.00,80.50 L509.00,78.50 L516.00,76.00 L523.00,71.00 L530.00,66.50 L536.50,62.60 L543.00,60.20 L549.70,56.60 L556.00,53.50 L563.00,49.90 L565.00,48.40 L570.00,45.50 L573.30,42.30 L578.30,39.00 L581.60,38.20 L588.20,32.40 L594.90,27.90 L599.80,25.70 L606.50,20.80 L614.80,15.30 L621.40,12.50 L625.00,12.00 L629.20,11.30 L635.00,10.00 L641.70,8.80 L648.00,8.20 L654.30,7.20 L665.00,6.60 L682.00,6.30" fill="none" stroke="#a8102e" stroke-width="4.5" stroke-linejoin="round" />
<path d="M396.40,23.90 L398.30,45.00 L399.70,60.30 L403.00,68.50 L406.50,75.40 L409.00,82.60 L413.00,87.50 L417.80,91.40 L422.00,94.50 L427.80,97.70 L432.00,98.80 L436.60,99.00 L440.00,97.50 L442.90,96.50 L446.00,96.80 L450.50,96.00 L456.00,95.10 L462.00,92.00 L469.20,89.10 L476.00,86.30 L482.50,83.80 L489.00,81.00 L495.70,78.50 L502.00,76.00 L509.00,73.90 L516.00,72.20 L523.20,68.50 L530.00,66.00 L536.50,63.80 L543.00,61.00 L549.70,58.50 L556.00,56.00 L563.00,53.20 L565.00,51.40 L570.00,49.50 L573.30,47.30 L577.00,44.00 L581.60,40.70 L585.00,38.00 L589.90,34.90 L596.50,32.40 L599.80,33.20 L604.80,27.40 L611.40,22.40 L618.10,19.10 L625.00,15.80 L629.20,15.10 L634.00,13.50 L639.20,10.60 L644.00,9.50 L649.30,8.30 L660.00,7.50 L670.00,6.80 L682.00,6.30" fill="none" stroke="#26345e" stroke-width="3.6" stroke-linejoin="round" />
<path d="M375.7,127.8 L682,15.7" fill="none" stroke="#eca52a" stroke-width="2.3" stroke-linejoin="round" stroke-dasharray="5.8 3.4"/>
</g>
<rect x="375.7" y="2.2" width="306.30" height="128.80" fill="none" stroke="#a8a8a8" stroke-width="1"/>
<line x1="384.30" y1="131.00" x2="384.30" y2="128.80" stroke="#a8a8a8" stroke-width="1" />
<line x1="384.30" y1="2.20" x2="384.30" y2="4.40" stroke="#a8a8a8" stroke-width="1" />
<line x1="404.79" y1="131.00" x2="404.79" y2="128.80" stroke="#a8a8a8" stroke-width="1" />
<line x1="404.79" y1="2.20" x2="404.79" y2="4.40" stroke="#a8a8a8" stroke-width="1" />
<line x1="420.68" y1="131.00" x2="420.68" y2="128.80" stroke="#a8a8a8" stroke-width="1" />
<line x1="420.68" y1="2.20" x2="420.68" y2="4.40" stroke="#a8a8a8" stroke-width="1" />
<line x1="433.67" y1="131.00" x2="433.67" y2="128.80" stroke="#a8a8a8" stroke-width="1" />
<line x1="433.67" y1="2.20" x2="433.67" y2="4.40" stroke="#a8a8a8" stroke-width="1" />
<line x1="444.65" y1="131.00" x2="444.65" y2="128.80" stroke="#a8a8a8" stroke-width="1" />
<line x1="444.65" y1="2.20" x2="444.65" y2="4.40" stroke="#a8a8a8" stroke-width="1" />
<line x1="454.16" y1="131.00" x2="454.16" y2="128.80" stroke="#a8a8a8" stroke-width="1" />
<line x1="454.16" y1="2.20" x2="454.16" y2="4.40" stroke="#a8a8a8" stroke-width="1" />
<line x1="462.55" y1="131.00" x2="462.55" y2="128.80" stroke="#a8a8a8" stroke-width="1" />
<line x1="462.55" y1="2.20" x2="462.55" y2="4.40" stroke="#a8a8a8" stroke-width="1" />
<line x1="470.05" y1="131.00" x2="470.05" y2="128.00" stroke="#a8a8a8" stroke-width="1" />
<line x1="470.05" y1="2.20" x2="470.05" y2="5.20" stroke="#a8a8a8" stroke-width="1" />
<line x1="519.42" y1="131.00" x2="519.42" y2="128.80" stroke="#a8a8a8" stroke-width="1" />
<line x1="519.42" y1="2.20" x2="519.42" y2="4.40" stroke="#a8a8a8" stroke-width="1" />
<line x1="548.30" y1="131.00" x2="548.30" y2="128.80" stroke="#a8a8a8" stroke-width="1" />
<line x1="548.30" y1="2.20" x2="548.30" y2="4.40" stroke="#a8a8a8" stroke-width="1" />
<line x1="568.79" y1="131.00" x2="568.79" y2="128.80" stroke="#a8a8a8" stroke-width="1" />
<line x1="568.79" y1="2.20" x2="568.79" y2="4.40" stroke="#a8a8a8" stroke-width="1" />
<line x1="584.68" y1="131.00" x2="584.68" y2="128.80" stroke="#a8a8a8" stroke-width="1" />
<line x1="584.68" y1="2.20" x2="584.68" y2="4.40" stroke="#a8a8a8" stroke-width="1" />
<line x1="597.67" y1="131.00" x2="597.67" y2="128.80" stroke="#a8a8a8" stroke-width="1" />
<line x1="597.67" y1="2.20" x2="597.67" y2="4.40" stroke="#a8a8a8" stroke-width="1" />
<line x1="608.65" y1="131.00" x2="608.65" y2="128.80" stroke="#a8a8a8" stroke-width="1" />
<line x1="608.65" y1="2.20" x2="608.65" y2="4.40" stroke="#a8a8a8" stroke-width="1" />
<line x1="618.16" y1="131.00" x2="618.16" y2="128.80" stroke="#a8a8a8" stroke-width="1" />
<line x1="618.16" y1="2.20" x2="618.16" y2="4.40" stroke="#a8a8a8" stroke-width="1" />
<line x1="626.55" y1="131.00" x2="626.55" y2="128.80" stroke="#a8a8a8" stroke-width="1" />
<line x1="626.55" y1="2.20" x2="626.55" y2="4.40" stroke="#a8a8a8" stroke-width="1" />
<line x1="634.05" y1="131.00" x2="634.05" y2="128.00" stroke="#a8a8a8" stroke-width="1" />
<line x1="634.05" y1="2.20" x2="634.05" y2="5.20" stroke="#a8a8a8" stroke-width="1" />
<line x1="375.70" y1="5.50" x2="378.70" y2="5.50" stroke="#a8a8a8" stroke-width="1" />
<line x1="682.00" y1="5.50" x2="679.00" y2="5.50" stroke="#a8a8a8" stroke-width="1" />
<line x1="375.70" y1="35.70" x2="378.70" y2="35.70" stroke="#a8a8a8" stroke-width="1" />
<line x1="682.00" y1="35.70" x2="679.00" y2="35.70" stroke="#a8a8a8" stroke-width="1" />
<line x1="375.70" y1="26.61" x2="377.30" y2="26.61" stroke="#a8a8a8" stroke-width="1" />
<line x1="682.00" y1="26.61" x2="680.40" y2="26.61" stroke="#a8a8a8" stroke-width="1" />
<line x1="375.70" y1="21.29" x2="377.30" y2="21.29" stroke="#a8a8a8" stroke-width="1" />
<line x1="682.00" y1="21.29" x2="680.40" y2="21.29" stroke="#a8a8a8" stroke-width="1" />
<line x1="375.70" y1="17.52" x2="377.30" y2="17.52" stroke="#a8a8a8" stroke-width="1" />
<line x1="682.00" y1="17.52" x2="680.40" y2="17.52" stroke="#a8a8a8" stroke-width="1" />
<line x1="375.70" y1="14.59" x2="377.30" y2="14.59" stroke="#a8a8a8" stroke-width="1" />
<line x1="682.00" y1="14.59" x2="680.40" y2="14.59" stroke="#a8a8a8" stroke-width="1" />
<line x1="375.70" y1="12.20" x2="377.30" y2="12.20" stroke="#a8a8a8" stroke-width="1" />
<line x1="682.00" y1="12.20" x2="680.40" y2="12.20" stroke="#a8a8a8" stroke-width="1" />
<line x1="375.70" y1="10.18" x2="377.30" y2="10.18" stroke="#a8a8a8" stroke-width="1" />
<line x1="682.00" y1="10.18" x2="680.40" y2="10.18" stroke="#a8a8a8" stroke-width="1" />
<line x1="375.70" y1="8.43" x2="377.30" y2="8.43" stroke="#a8a8a8" stroke-width="1" />
<line x1="682.00" y1="8.43" x2="680.40" y2="8.43" stroke="#a8a8a8" stroke-width="1" />
<line x1="375.70" y1="6.88" x2="377.30" y2="6.88" stroke="#a8a8a8" stroke-width="1" />
<line x1="682.00" y1="6.88" x2="680.40" y2="6.88" stroke="#a8a8a8" stroke-width="1" />
<line x1="375.70" y1="65.90" x2="378.70" y2="65.90" stroke="#a8a8a8" stroke-width="1" />
<line x1="682.00" y1="65.90" x2="679.00" y2="65.90" stroke="#a8a8a8" stroke-width="1" />
<line x1="375.70" y1="56.81" x2="377.30" y2="56.81" stroke="#a8a8a8" stroke-width="1" />
<line x1="682.00" y1="56.81" x2="680.40" y2="56.81" stroke="#a8a8a8" stroke-width="1" />
<line x1="375.70" y1="51.49" x2="377.30" y2="51.49" stroke="#a8a8a8" stroke-width="1" />
<line x1="682.00" y1="51.49" x2="680.40" y2="51.49" stroke="#a8a8a8" stroke-width="1" />
<line x1="375.70" y1="47.72" x2="377.30" y2="47.72" stroke="#a8a8a8" stroke-width="1" />
<line x1="682.00" y1="47.72" x2="680.40" y2="47.72" stroke="#a8a8a8" stroke-width="1" />
<line x1="375.70" y1="44.79" x2="377.30" y2="44.79" stroke="#a8a8a8" stroke-width="1" />
<line x1="682.00" y1="44.79" x2="680.40" y2="44.79" stroke="#a8a8a8" stroke-width="1" />
<line x1="375.70" y1="42.40" x2="377.30" y2="42.40" stroke="#a8a8a8" stroke-width="1" />
<line x1="682.00" y1="42.40" x2="680.40" y2="42.40" stroke="#a8a8a8" stroke-width="1" />
<line x1="375.70" y1="40.38" x2="377.30" y2="40.38" stroke="#a8a8a8" stroke-width="1" />
<line x1="682.00" y1="40.38" x2="680.40" y2="40.38" stroke="#a8a8a8" stroke-width="1" />
<line x1="375.70" y1="38.63" x2="377.30" y2="38.63" stroke="#a8a8a8" stroke-width="1" />
<line x1="682.00" y1="38.63" x2="680.40" y2="38.63" stroke="#a8a8a8" stroke-width="1" />
<line x1="375.70" y1="37.08" x2="377.30" y2="37.08" stroke="#a8a8a8" stroke-width="1" />
<line x1="682.00" y1="37.08" x2="680.40" y2="37.08" stroke="#a8a8a8" stroke-width="1" />
<line x1="375.70" y1="96.10" x2="378.70" y2="96.10" stroke="#a8a8a8" stroke-width="1" />
<line x1="682.00" y1="96.10" x2="679.00" y2="96.10" stroke="#a8a8a8" stroke-width="1" />
<line x1="375.70" y1="87.01" x2="377.30" y2="87.01" stroke="#a8a8a8" stroke-width="1" />
<line x1="682.00" y1="87.01" x2="680.40" y2="87.01" stroke="#a8a8a8" stroke-width="1" />
<line x1="375.70" y1="81.69" x2="377.30" y2="81.69" stroke="#a8a8a8" stroke-width="1" />
<line x1="682.00" y1="81.69" x2="680.40" y2="81.69" stroke="#a8a8a8" stroke-width="1" />
<line x1="375.70" y1="77.92" x2="377.30" y2="77.92" stroke="#a8a8a8" stroke-width="1" />
<line x1="682.00" y1="77.92" x2="680.40" y2="77.92" stroke="#a8a8a8" stroke-width="1" />
<line x1="375.70" y1="74.99" x2="377.30" y2="74.99" stroke="#a8a8a8" stroke-width="1" />
<line x1="682.00" y1="74.99" x2="680.40" y2="74.99" stroke="#a8a8a8" stroke-width="1" />
<line x1="375.70" y1="72.60" x2="377.30" y2="72.60" stroke="#a8a8a8" stroke-width="1" />
<line x1="682.00" y1="72.60" x2="680.40" y2="72.60" stroke="#a8a8a8" stroke-width="1" />
<line x1="375.70" y1="70.58" x2="377.30" y2="70.58" stroke="#a8a8a8" stroke-width="1" />
<line x1="682.00" y1="70.58" x2="680.40" y2="70.58" stroke="#a8a8a8" stroke-width="1" />
<line x1="375.70" y1="68.83" x2="377.30" y2="68.83" stroke="#a8a8a8" stroke-width="1" />
<line x1="682.00" y1="68.83" x2="680.40" y2="68.83" stroke="#a8a8a8" stroke-width="1" />
<line x1="375.70" y1="67.28" x2="377.30" y2="67.28" stroke="#a8a8a8" stroke-width="1" />
<line x1="682.00" y1="67.28" x2="680.40" y2="67.28" stroke="#a8a8a8" stroke-width="1" />
<line x1="375.70" y1="126.30" x2="378.70" y2="126.30" stroke="#a8a8a8" stroke-width="1" />
<line x1="682.00" y1="126.30" x2="679.00" y2="126.30" stroke="#a8a8a8" stroke-width="1" />
<line x1="375.70" y1="117.21" x2="377.30" y2="117.21" stroke="#a8a8a8" stroke-width="1" />
<line x1="682.00" y1="117.21" x2="680.40" y2="117.21" stroke="#a8a8a8" stroke-width="1" />
<line x1="375.70" y1="111.89" x2="377.30" y2="111.89" stroke="#a8a8a8" stroke-width="1" />
<line x1="682.00" y1="111.89" x2="680.40" y2="111.89" stroke="#a8a8a8" stroke-width="1" />
<line x1="375.70" y1="108.12" x2="377.30" y2="108.12" stroke="#a8a8a8" stroke-width="1" />
<line x1="682.00" y1="108.12" x2="680.40" y2="108.12" stroke="#a8a8a8" stroke-width="1" />
<line x1="375.70" y1="105.19" x2="377.30" y2="105.19" stroke="#a8a8a8" stroke-width="1" />
<line x1="682.00" y1="105.19" x2="680.40" y2="105.19" stroke="#a8a8a8" stroke-width="1" />
<line x1="375.70" y1="102.80" x2="377.30" y2="102.80" stroke="#a8a8a8" stroke-width="1" />
<line x1="682.00" y1="102.80" x2="680.40" y2="102.80" stroke="#a8a8a8" stroke-width="1" />
<line x1="375.70" y1="100.78" x2="377.30" y2="100.78" stroke="#a8a8a8" stroke-width="1" />
<line x1="682.00" y1="100.78" x2="680.40" y2="100.78" stroke="#a8a8a8" stroke-width="1" />
<line x1="375.70" y1="99.03" x2="377.30" y2="99.03" stroke="#a8a8a8" stroke-width="1" />
<line x1="682.00" y1="99.03" x2="680.40" y2="99.03" stroke="#a8a8a8" stroke-width="1" />
<line x1="375.70" y1="97.48" x2="377.30" y2="97.48" stroke="#a8a8a8" stroke-width="1" />
<line x1="682.00" y1="97.48" x2="680.40" y2="97.48" stroke="#a8a8a8" stroke-width="1" />
<line x1="375.70" y1="130.98" x2="377.30" y2="130.98" stroke="#a8a8a8" stroke-width="1" />
<line x1="682.00" y1="130.98" x2="680.40" y2="130.98" stroke="#a8a8a8" stroke-width="1" />
<line x1="375.70" y1="129.23" x2="377.30" y2="129.23" stroke="#a8a8a8" stroke-width="1" />
<line x1="682.00" y1="129.23" x2="680.40" y2="129.23" stroke="#a8a8a8" stroke-width="1" />
<line x1="375.70" y1="127.68" x2="377.30" y2="127.68" stroke="#a8a8a8" stroke-width="1" />
<line x1="682.00" y1="127.68" x2="680.40" y2="127.68" stroke="#a8a8a8" stroke-width="1" />
<text x="384.30" y="145.20" font-size="12.2" text-anchor="middle" fill="#1e1e1e" ><tspan dy="-0.00">0.03</tspan></text>
<text x="420.68" y="145.20" font-size="12.2" text-anchor="middle" fill="#1e1e1e" ><tspan dy="-0.00">0.05</tspan></text>
<text x="470.05" y="145.20" font-size="12.2" text-anchor="middle" fill="#1e1e1e" ><tspan dy="-0.00">0.1</tspan></text>
<text x="519.42" y="145.20" font-size="12.2" text-anchor="middle" fill="#1e1e1e" ><tspan dy="-0.00">0.2</tspan></text>
<text x="568.79" y="145.20" font-size="12.2" text-anchor="middle" fill="#1e1e1e" ><tspan dy="-0.00">0.4</tspan></text>
<text x="618.16" y="145.20" font-size="12.2" text-anchor="middle" fill="#1e1e1e" ><tspan dy="-0.00">0.8</tspan></text>
<text x="683.42" y="145.20" font-size="12.2" text-anchor="middle" fill="#1e1e1e" ><tspan dy="-0.00">2</tspan></text>
<text x="493.50" y="146.20" font-size="15" text-anchor="middle" fill="#1e1e1e" letter-spacing="0.9"><tspan dy="-0.00" font-style="italic">J</tspan><tspan dy="0.00">/</tspan><tspan dy="0.00" font-style="italic">V</tspan></text>
<text x="371.60" y="9.80" font-size="12.5" text-anchor="end" fill="#1e1e1e" ><tspan dy="-0.00">1</tspan></text>
<text x="372.00" y="39.10" font-size="13.4" text-anchor="end" fill="#1e1e1e" ><tspan dy="-0.00">10</tspan><tspan dy="-5.40" font-size="9.40">−1</tspan></text>
<text x="372.00" y="69.30" font-size="13.4" text-anchor="end" fill="#1e1e1e" ><tspan dy="-0.00">10</tspan><tspan dy="-5.40" font-size="9.40">−2</tspan></text>
<text x="372.00" y="99.50" font-size="13.4" text-anchor="end" fill="#1e1e1e" ><tspan dy="-0.00">10</tspan><tspan dy="-5.40" font-size="9.40">−3</tspan></text>
<text x="372.00" y="129.70" font-size="13.4" text-anchor="end" fill="#1e1e1e" ><tspan dy="-0.00">10</tspan><tspan dy="-5.40" font-size="9.40">−4</tspan></text>
<text x="378.80" y="17.10" font-size="13.8" text-anchor="start" fill="#1e1e1e" ><tspan dy="-0.00">(b)</tspan></text>
<text transform="translate(357.00,21.50) rotate(-90)" font-size="13" fill="#1e1e1e"><tspan dy="-0.00" font-style="italic">ε</tspan><tspan dy="2.50" font-size="9.00" font-style="italic">f</tspan></text>
<rect x="637.00" y="46.50" width="36.40" height="18.80" fill="#ececec"/>
<text x="639.40" y="54.10" font-size="8.3" text-anchor="start" fill="#1a1a1a" textLength="32.4" lengthAdjust="spacingAndGlyphs"  stroke="#1a1a1a" stroke-width="0.12"><tspan dy="-0.00" font-style="italic">λ</tspan><tspan dy="0.00">/</tspan><tspan dy="0.00" font-style="italic">J</tspan><tspan dy="0.00">&#160;</tspan><tspan font-size="10.79" dy="0.4">=</tspan><tspan dy="-0.4">&#160;0.1</tspan></text>
<text x="639.40" y="62.80" font-size="8.3" text-anchor="start" fill="#1a1a1a" textLength="32.4" lengthAdjust="spacingAndGlyphs"  stroke="#1a1a1a" stroke-width="0.12"><tspan dy="-0.00" font-style="italic">h</tspan><tspan dy="0.00">/</tspan><tspan dy="0.00" font-style="italic">J</tspan><tspan dy="0.00">&#160;</tspan><tspan font-size="10.79" dy="0.4">=</tspan><tspan dy="-0.4">&#160;0.3</tspan></text>
<rect x="603.50" y="72.40" width="69.60" height="11.20" fill="#ececec"/>
<text x="604.90" y="80.40" font-size="8.3" text-anchor="start" fill="#1a1a1a" textLength="67.0" lengthAdjust="spacingAndGlyphs"  stroke="#1a1a1a" stroke-width="0.12"><tspan dy="-0.00" font-style="italic">c</tspan><tspan dy="1.60" font-size="6.00" font-style="italic">j</tspan><tspan dy="-1.60">&#160;</tspan><tspan font-size="10.79" dy="0.4">=</tspan><tspan dy="-0.4">&#160;[6(−1)</tspan><tspan dy="-3.20" font-size="6.00" font-style="italic">j</tspan><tspan dy="3.20">&#160;+&#160;5]/11</tspan></text>
<rect x="478.20" y="98.70" width="85.80" height="20.50" fill="#ececec"/>
<text x="483.30" y="105.80" font-size="8.6" text-anchor="start" fill="#1a1a1a" textLength="75" lengthAdjust="spacingAndGlyphs"  stroke="#1a1a1a" stroke-width="0.12"><tspan dy="-0.00">controlled-error&#160;regime</tspan></text>
<text x="502.30" y="115.10" font-size="8.6" text-anchor="start" fill="#1a1a1a" textLength="36.6" lengthAdjust="spacingAndGlyphs"  stroke="#1a1a1a" stroke-width="0.12"><tspan dy="-0.00" font-style="italic">ε</tspan><tspan dy="1.60" font-size="6.00" font-style="italic">f</tspan><tspan dy="-1.60">&#160;∝&#160;</tspan><tspan dy="0.00" font-style="italic">λ</tspan><tspan dy="-3.40" font-size="6.00">2</tspan><tspan dy="3.40">/</tspan><tspan dy="0.00" font-style="italic">V</tspan><tspan dy="-3.40" font-size="6.00">2</tspan></text>
<line x1="513.00" y1="97.70" x2="487.50" y2="90.40" stroke="#222" stroke-width="0.6" />
<path d="M485,89.7 L489.8,89.4 L488.8,92.4 Z" fill="#222"/>
<line x1="536.70" y1="97.70" x2="547.10" y2="67.20" stroke="#222" stroke-width="0.6" />
<path d="M547.9,64.7 L548.9,69.4 L546.0,68.5 Z" fill="#222"/>
<line x1="589.80" y1="94.80" x2="602.00" y2="94.80" stroke="#a8102e" stroke-width="4" />
<text x="602.60" y="97.10" font-size="8.6" text-anchor="start" fill="#1a1a1a" textLength="32.6" lengthAdjust="spacingAndGlyphs"  stroke="#1a1a1a" stroke-width="0.12"><tspan dy="-0.00" font-style="italic">ε</tspan><tspan dy="1.60" font-size="6.00" font-style="italic">f</tspan><tspan dy="-1.60">,&#160;analog</tspan></text>
<line x1="589.80" y1="104.00" x2="602.00" y2="104.00" stroke="#c9def5" stroke-width="4" />
<text x="602.60" y="106.30" font-size="8.6" text-anchor="start" fill="#1a1a1a" textLength="74.4" lengthAdjust="spacingAndGlyphs"  stroke="#1a1a1a" stroke-width="0.12"><tspan dy="-0.00" font-style="italic">ε</tspan><tspan dy="1.60" font-size="6.00" font-style="italic">f</tspan><tspan dy="-1.60">,&#160;digital&#160;(</tspan><tspan dy="0.00" font-style="italic">δt</tspan><tspan dy="0.00">&#160;</tspan><tspan font-size="11.18" dy="0.4">=</tspan><tspan dy="-0.4">&#160;0.4/</tspan><tspan dy="0.00" font-style="italic">J</tspan><tspan dy="0.00">)</tspan></text>
<line x1="589.80" y1="113.10" x2="602.00" y2="113.10" stroke="#4a8fd6" stroke-width="4" />
<text x="602.60" y="115.40" font-size="8.6" text-anchor="start" fill="#1a1a1a" textLength="74.4" lengthAdjust="spacingAndGlyphs"  stroke="#1a1a1a" stroke-width="0.12"><tspan dy="-0.00" font-style="italic">ε</tspan><tspan dy="1.60" font-size="6.00" font-style="italic">f</tspan><tspan dy="-1.60">,&#160;digital&#160;(</tspan><tspan dy="0.00" font-style="italic">δt</tspan><tspan dy="0.00">&#160;</tspan><tspan font-size="11.18" dy="0.4">=</tspan><tspan dy="-0.4">&#160;0.2/</tspan><tspan dy="0.00" font-style="italic">J</tspan><tspan dy="0.00">)</tspan></text>
<line x1="589.80" y1="122.20" x2="602.00" y2="122.20" stroke="#26345e" stroke-width="4" />
<text x="602.60" y="124.50" font-size="8.6" text-anchor="start" fill="#1a1a1a" textLength="74.4" lengthAdjust="spacingAndGlyphs"  stroke="#1a1a1a" stroke-width="0.12"><tspan dy="-0.00" font-style="italic">ε</tspan><tspan dy="1.60" font-size="6.00" font-style="italic">f</tspan><tspan dy="-1.60">,&#160;digital&#160;(</tspan><tspan dy="0.00" font-style="italic">δt</tspan><tspan dy="0.00">&#160;</tspan><tspan font-size="11.18" dy="0.4">=</tspan><tspan dy="-0.4">&#160;0.1/</tspan><tspan dy="0.00" font-style="italic">J</tspan><tspan dy="0.00">)</tspan></text>
<clipPath id="cc"><rect x="29.5" y="160.3" width="301.0" height="126.09999999999997"/></clipPath>
<g clip-path="url(#cc)">
<path d="M29.30,284.50 C29.83,282.97 31.33,280.18 32.50,275.30 C33.67,270.42 35.25,260.85 36.30,255.20 C37.35,249.55 37.97,244.75 38.80,241.40 C39.63,238.05 40.45,235.82 41.30,235.10 C42.15,234.38 42.85,235.00 43.90,237.10 C44.95,239.20 46.35,244.35 47.60,247.70 C48.85,251.05 50.35,255.95 51.40,257.20 C52.45,258.45 53.07,257.62 53.90,255.20 C54.73,252.78 55.57,247.72 56.40,242.70 C57.23,237.68 58.05,230.88 58.90,225.10 C59.75,219.32 60.57,213.85 61.50,208.00 C62.43,202.15 63.58,194.25 64.50,190.00 C65.42,185.75 65.92,182.83 67.00,182.50 C68.08,182.17 69.58,185.58 71.00,188.00 C72.42,190.42 74.00,194.67 75.50,197.00 C77.00,199.33 78.75,202.17 80.00,202.00 C81.25,201.83 82.12,198.38 83.00,196.00 C83.88,193.62 84.28,191.18 85.30,187.70 C86.32,184.22 87.83,178.67 89.10,175.10 C90.37,171.53 91.67,167.73 92.90,166.30 C94.13,164.87 95.25,165.88 96.50,166.50 C97.75,167.12 99.15,167.75 100.40,170.00 C101.65,172.25 102.60,176.42 104.00,180.00 C105.40,183.58 107.13,188.92 108.80,191.50 C110.47,194.08 112.12,194.88 114.00,195.50 C115.88,196.12 118.10,195.95 120.10,195.20 C122.10,194.45 124.33,192.05 126.00,191.00 C127.67,189.95 128.37,189.03 130.10,188.90 C131.83,188.77 134.30,188.52 136.40,190.20 C138.50,191.88 140.93,196.20 142.70,199.00 C144.47,201.80 145.53,204.78 147.00,207.00 C148.47,209.22 149.70,212.58 151.50,212.30 C153.30,212.02 155.50,208.98 157.80,205.30 C160.10,201.62 162.78,194.18 165.30,190.20 C167.82,186.22 170.38,183.08 172.90,181.40 C175.42,179.72 178.30,180.52 180.40,180.10 C182.50,179.68 183.48,178.90 185.50,178.90 C187.52,178.90 190.08,180.08 192.50,180.10 C194.92,180.12 197.48,179.33 200.00,179.00 C202.52,178.67 205.43,177.85 207.60,178.10 C209.77,178.35 211.32,179.53 213.00,180.50 C214.68,181.47 215.67,182.78 217.70,183.90 C219.73,185.02 222.82,186.60 225.20,187.20 C227.58,187.80 229.48,187.50 232.00,187.50 C234.52,187.50 237.30,187.25 240.30,187.20 C243.30,187.15 247.07,187.20 250.00,187.20 C252.93,187.20 255.82,187.45 257.90,187.20 C259.98,186.95 260.82,185.82 262.50,185.70 C264.18,185.58 266.32,186.08 268.00,186.50 C269.68,186.92 270.78,188.22 272.60,188.20 C274.42,188.18 277.02,187.95 278.90,186.40 C280.78,184.85 282.02,181.28 283.90,178.90 C285.78,176.52 288.10,172.52 290.20,172.10 C292.30,171.68 294.40,174.43 296.50,176.40 C298.60,178.37 300.70,182.43 302.80,183.90 C304.90,185.37 307.02,185.07 309.10,185.20 C311.18,185.33 313.22,184.28 315.30,184.70 C317.38,185.12 319.70,186.37 321.60,187.70 C323.50,189.03 325.20,191.32 326.70,192.70 C328.20,194.08 329.95,195.45 330.60,196.00" fill="none" stroke="#a8102e" stroke-width="2.9" stroke-linejoin="round" stroke-dasharray="2.6 2.0"/>
<path d="M29.30,284.50 C29.83,282.97 31.33,280.18 32.50,275.30 C33.67,270.42 35.25,260.85 36.30,255.20 C37.35,249.55 37.97,244.75 38.80,241.40 C39.63,238.05 40.45,235.82 41.30,235.10 C42.15,234.38 42.85,235.00 43.90,237.10 C44.95,239.20 46.35,244.35 47.60,247.70 C48.85,251.05 50.35,255.95 51.40,257.20 C52.45,258.45 53.07,257.62 53.90,255.20 C54.73,252.78 55.57,247.72 56.40,242.70 C57.23,237.68 58.05,230.55 58.90,225.10 C59.75,219.65 60.45,217.07 61.50,210.00 C62.55,202.93 64.08,188.02 65.20,182.70 C66.32,177.38 66.93,177.27 68.20,178.10 C69.47,178.93 71.42,184.22 72.80,187.70 C74.18,191.18 75.17,195.87 76.50,199.00 C77.83,202.13 79.47,206.17 80.80,206.50 C82.13,206.83 83.32,203.30 84.50,201.00 C85.68,198.70 86.50,197.22 87.90,192.70 C89.30,188.18 91.23,178.17 92.90,173.90 C94.57,169.63 96.22,167.32 97.90,167.10 C99.58,166.88 101.40,169.17 103.00,172.60 C104.60,176.03 106.12,181.83 107.50,187.70 C108.88,193.57 110.03,201.10 111.30,207.80 C112.57,214.50 113.90,221.37 115.10,227.90 C116.30,234.43 117.25,242.03 118.50,247.00 C119.75,251.97 121.35,257.20 122.60,257.70 C123.85,258.20 124.95,252.93 126.00,250.00 C127.05,247.07 127.58,245.88 128.90,240.10 C130.22,234.32 132.65,222.37 133.90,215.30 C135.15,208.23 135.57,202.72 136.40,197.70 C137.23,192.68 137.85,188.13 138.90,185.20 C139.95,182.27 141.43,180.10 142.70,180.10 C143.97,180.10 145.03,182.47 146.50,185.20 C147.97,187.93 150.03,193.57 151.50,196.50 C152.97,199.43 154.03,202.60 155.30,202.80 C156.57,203.00 157.63,200.63 159.10,197.70 C160.57,194.77 162.22,188.13 164.10,185.20 C165.98,182.27 168.52,179.90 170.40,180.10 C172.28,180.30 173.73,184.72 175.40,186.40 C177.07,188.08 178.72,190.62 180.40,190.20 C182.08,189.78 184.10,186.00 185.50,183.90 C186.90,181.80 187.50,179.40 188.80,177.60 C190.10,175.80 191.83,172.68 193.30,173.10 C194.77,173.52 196.27,176.83 197.60,180.10 C198.93,183.37 199.83,187.25 201.30,192.70 C202.77,198.15 204.72,206.72 206.40,212.80 C208.08,218.88 209.52,223.80 211.40,229.20 C213.28,234.60 215.85,239.73 217.70,245.20 C219.55,250.67 220.92,256.77 222.50,262.00 C224.08,267.23 225.70,276.05 227.20,276.60 C228.70,277.15 230.15,270.95 231.50,265.30 C232.85,259.65 234.12,251.08 235.30,242.70 C236.48,234.32 237.57,221.23 238.60,215.00 C239.63,208.77 240.52,209.43 241.50,205.30 C242.48,201.17 243.53,193.88 244.50,190.20 C245.47,186.52 246.12,183.03 247.30,183.20 C248.48,183.37 250.28,188.82 251.60,191.20 C252.92,193.58 253.95,196.03 255.20,197.50 C256.45,198.97 257.77,200.17 259.10,200.00 C260.43,199.83 262.00,197.55 263.20,196.50 C264.40,195.45 264.95,194.25 266.30,193.70 C267.65,193.15 269.63,192.78 271.30,193.20 C272.97,193.62 274.63,196.73 276.30,196.20 C277.97,195.67 279.83,192.93 281.30,190.00 C282.77,187.07 283.63,181.67 285.10,178.60 C286.57,175.53 288.63,171.60 290.10,171.60 C291.57,171.60 292.63,174.07 293.90,178.60 C295.17,183.13 296.43,192.50 297.70,198.80 C298.97,205.10 299.92,211.28 301.50,216.40 C303.08,221.52 305.53,229.08 307.20,229.50 C308.87,229.92 309.95,222.55 311.50,218.90 C313.05,215.25 314.82,210.53 316.50,207.60 C318.18,204.67 319.92,202.77 321.60,201.30 C323.28,199.83 325.10,199.60 326.60,198.80 C328.10,198.00 329.93,196.88 330.60,196.50" fill="none" stroke="#c9def5" stroke-width="5.4" stroke-linejoin="round" />
<path d="M29.30,284.50 C29.83,282.97 31.33,280.18 32.50,275.30 C33.67,270.42 35.25,260.85 36.30,255.20 C37.35,249.55 37.97,244.75 38.80,241.40 C39.63,238.05 40.45,235.82 41.30,235.10 C42.15,234.38 42.85,235.00 43.90,237.10 C44.95,239.20 46.35,244.35 47.60,247.70 C48.85,251.05 50.35,255.95 51.40,257.20 C52.45,258.45 53.07,257.62 53.90,255.20 C54.73,252.78 55.57,247.72 56.40,242.70 C57.23,237.68 58.05,230.55 58.90,225.10 C59.75,219.65 60.45,217.07 61.50,210.00 C62.55,202.93 64.08,188.02 65.20,182.70 C66.32,177.38 66.93,177.27 68.20,178.10 C69.47,178.93 71.42,184.22 72.80,187.70 C74.18,191.18 75.17,195.87 76.50,199.00 C77.83,202.13 79.47,206.17 80.80,206.50 C82.13,206.83 83.32,203.30 84.50,201.00 C85.68,198.70 86.50,197.22 87.90,192.70 C89.30,188.18 91.23,178.17 92.90,173.90 C94.57,169.63 96.22,167.32 97.90,167.10 C99.58,166.88 101.40,169.17 103.00,172.60 C104.60,176.03 106.12,181.83 107.50,187.70 C108.88,193.57 110.03,201.10 111.30,207.80 C112.57,214.50 113.90,221.37 115.10,227.90 C116.30,234.43 117.25,242.03 118.50,247.00 C119.75,251.97 121.35,257.20 122.60,257.70 C123.85,258.20 124.95,252.93 126.00,250.00 C127.05,247.07 127.58,245.88 128.90,240.10 C130.22,234.32 132.65,222.37 133.90,215.30 C135.15,208.23 135.57,202.72 136.40,197.70 C137.23,192.68 137.85,188.13 138.90,185.20 C139.95,182.27 141.43,180.10 142.70,180.10 C143.97,180.10 145.03,182.47 146.50,185.20 C147.97,187.93 150.03,193.57 151.50,196.50 C152.97,199.43 154.03,202.60 155.30,202.80 C156.57,203.00 157.63,200.63 159.10,197.70 C160.57,194.77 162.22,188.13 164.10,185.20 C165.98,182.27 168.52,179.90 170.40,180.10 C172.28,180.30 173.73,184.72 175.40,186.40 C177.07,188.08 178.72,190.62 180.40,190.20 C182.08,189.78 184.10,186.00 185.50,183.90 C186.90,181.80 187.50,179.40 188.80,177.60 C190.10,175.80 191.83,172.68 193.30,173.10 C194.77,173.52 196.27,176.83 197.60,180.10 C198.93,183.37 199.83,187.25 201.30,192.70 C202.77,198.15 204.72,206.72 206.40,212.80 C208.08,218.88 209.52,223.80 211.40,229.20 C213.28,234.60 215.85,239.73 217.70,245.20 C219.55,250.67 220.92,256.77 222.50,262.00 C224.08,267.23 225.70,276.05 227.20,276.60 C228.70,277.15 230.15,270.95 231.50,265.30 C232.85,259.65 234.12,251.08 235.30,242.70 C236.48,234.32 237.77,221.23 238.60,215.00 C239.43,208.77 239.52,209.43 240.30,205.30 C241.08,201.17 242.33,193.63 243.30,190.20 C244.27,186.77 244.92,184.28 246.10,184.70 C247.28,185.12 249.08,190.32 250.40,192.70 C251.72,195.08 252.75,197.53 254.00,199.00 C255.25,200.47 256.57,201.67 257.90,201.50 C259.23,201.33 260.80,199.05 262.00,198.00 C263.20,196.95 263.75,195.75 265.10,195.20 C266.45,194.65 268.43,194.28 270.10,194.70 C271.77,195.12 273.43,198.23 275.10,197.70 C276.77,197.17 278.63,194.43 280.10,191.50 C281.57,188.57 282.43,183.17 283.90,180.10 C285.37,177.03 287.43,173.10 288.90,173.10 C290.37,173.10 291.43,175.57 292.70,180.10 C293.97,184.63 295.23,194.00 296.50,200.30 C297.77,206.60 298.72,212.78 300.30,217.90 C301.88,223.02 304.33,230.58 306.00,231.00 C307.67,231.42 308.75,224.05 310.30,220.40 C311.85,216.75 313.62,212.03 315.30,209.10 C316.98,206.17 318.72,204.27 320.40,202.80 C322.08,201.33 323.70,201.35 325.40,200.30 C327.10,199.25 329.73,197.13 330.60,196.50" fill="none" stroke="#4a8fd6" stroke-width="4.1" stroke-linejoin="round" />
<path d="M29.30,284.50 C29.83,282.97 31.33,280.18 32.50,275.30 C33.67,270.42 35.25,260.85 36.30,255.20 C37.35,249.55 37.97,244.75 38.80,241.40 C39.63,238.05 40.45,235.82 41.30,235.10 C42.15,234.38 42.85,235.00 43.90,237.10 C44.95,239.20 46.35,244.35 47.60,247.70 C48.85,251.05 50.35,255.95 51.40,257.20 C52.45,258.45 53.07,257.62 53.90,255.20 C54.73,252.78 55.57,247.72 56.40,242.70 C57.23,237.68 58.05,230.55 58.90,225.10 C59.75,219.65 60.45,217.07 61.50,210.00 C62.55,202.93 64.08,188.02 65.20,182.70 C66.32,177.38 66.93,177.27 68.20,178.10 C69.47,178.93 71.42,184.22 72.80,187.70 C74.18,191.18 75.17,195.87 76.50,199.00 C77.83,202.13 79.47,206.17 80.80,206.50 C82.13,206.83 83.32,203.30 84.50,201.00 C85.68,198.70 86.50,197.22 87.90,192.70 C89.30,188.18 91.23,178.17 92.90,173.90 C94.57,169.63 96.22,167.32 97.90,167.10 C99.58,166.88 101.40,169.17 103.00,172.60 C104.60,176.03 106.12,181.83 107.50,187.70 C108.88,193.57 110.03,201.10 111.30,207.80 C112.57,214.50 113.90,221.37 115.10,227.90 C116.30,234.43 117.25,242.03 118.50,247.00 C119.75,251.97 121.35,257.20 122.60,257.70 C123.85,258.20 124.95,252.93 126.00,250.00 C127.05,247.07 127.58,245.88 128.90,240.10 C130.22,234.32 132.65,222.37 133.90,215.30 C135.15,208.23 135.57,202.72 136.40,197.70 C137.23,192.68 137.85,188.13 138.90,185.20 C139.95,182.27 141.43,180.10 142.70,180.10 C143.97,180.10 145.03,182.47 146.50,185.20 C147.97,187.93 150.03,193.57 151.50,196.50 C152.97,199.43 154.03,202.60 155.30,202.80 C156.57,203.00 157.63,200.63 159.10,197.70 C160.57,194.77 162.22,188.13 164.10,185.20 C165.98,182.27 168.52,179.90 170.40,180.10 C172.28,180.30 173.73,184.72 175.40,186.40 C177.07,188.08 178.72,190.62 180.40,190.20 C182.08,189.78 184.10,186.00 185.50,183.90 C186.90,181.80 187.50,179.40 188.80,177.60 C190.10,175.80 191.83,172.68 193.30,173.10 C194.77,173.52 196.27,176.83 197.60,180.10 C198.93,183.37 199.83,187.25 201.30,192.70 C202.77,198.15 204.72,206.72 206.40,212.80 C208.08,218.88 209.52,223.80 211.40,229.20 C213.28,234.60 215.85,239.73 217.70,245.20 C219.55,250.67 220.92,256.77 222.50,262.00 C224.08,267.23 225.70,276.05 227.20,276.60 C228.70,277.15 230.15,270.95 231.50,265.30 C232.85,259.65 234.12,251.08 235.30,242.70 C236.48,234.32 237.77,221.23 238.60,215.00 C239.43,208.77 239.52,209.43 240.30,205.30 C241.08,201.17 242.33,193.63 243.30,190.20 C244.27,186.77 244.92,184.28 246.10,184.70 C247.28,185.12 249.08,190.32 250.40,192.70 C251.72,195.08 252.75,197.53 254.00,199.00 C255.25,200.47 256.57,201.67 257.90,201.50 C259.23,201.33 260.80,199.05 262.00,198.00 C263.20,196.95 263.75,195.75 265.10,195.20 C266.45,194.65 268.43,194.28 270.10,194.70 C271.77,195.12 273.43,198.23 275.10,197.70 C276.77,197.17 278.63,194.43 280.10,191.50 C281.57,188.57 282.43,183.17 283.90,180.10 C285.37,177.03 287.43,173.10 288.90,173.10 C290.37,173.10 291.43,175.57 292.70,180.10 C293.97,184.63 295.23,194.00 296.50,200.30 C297.77,206.60 298.72,212.78 300.30,217.90 C301.88,223.02 304.33,230.58 306.00,231.00 C307.67,231.42 308.75,224.05 310.30,220.40 C311.85,216.75 313.62,212.03 315.30,209.10 C316.98,206.17 318.72,204.27 320.40,202.80 C322.08,201.33 323.70,201.35 325.40,200.30 C327.10,199.25 329.73,197.13 330.60,196.50" fill="none" stroke="#26345e" stroke-width="3.3" stroke-linejoin="round" />
<path d="M29.30,284.50 C29.83,282.97 31.33,280.18 32.50,275.30 C33.67,270.42 35.25,260.85 36.30,255.20 C37.35,249.55 37.97,244.75 38.80,241.40 C39.63,238.05 40.45,235.82 41.30,235.10 C42.15,234.38 42.85,235.00 43.90,237.10 C44.95,239.20 46.35,244.35 47.60,247.70 C48.85,251.05 50.35,255.95 51.40,257.20 C52.45,258.45 53.07,257.62 53.90,255.20 C54.73,252.78 55.57,247.72 56.40,242.70 C57.23,237.68 58.05,230.55 58.90,225.10 C59.75,219.65 60.45,217.07 61.50,210.00 C62.55,202.93 64.08,188.02 65.20,182.70 C66.32,177.38 66.93,177.27 68.20,178.10 C69.47,178.93 71.42,184.22 72.80,187.70 C74.18,191.18 75.17,195.87 76.50,199.00 C77.83,202.13 79.47,206.17 80.80,206.50 C82.13,206.83 83.32,203.30 84.50,201.00 C85.68,198.70 86.50,197.22 87.90,192.70 C89.30,188.18 91.23,178.17 92.90,173.90 C94.57,169.63 96.22,167.32 97.90,167.10 C99.58,166.88 101.40,169.17 103.00,172.60 C104.60,176.03 106.12,181.83 107.50,187.70 C108.88,193.57 110.03,201.10 111.30,207.80 C112.57,214.50 113.90,221.37 115.10,227.90 C116.30,234.43 117.25,242.03 118.50,247.00 C119.75,251.97 121.35,257.20 122.60,257.70 C123.85,258.20 124.95,252.93 126.00,250.00 C127.05,247.07 127.58,245.88 128.90,240.10 C130.22,234.32 132.65,222.37 133.90,215.30 C135.15,208.23 135.57,202.72 136.40,197.70 C137.23,192.68 137.85,188.13 138.90,185.20 C139.95,182.27 141.43,180.10 142.70,180.10 C143.97,180.10 145.03,182.47 146.50,185.20 C147.97,187.93 150.03,193.57 151.50,196.50 C152.97,199.43 154.03,202.60 155.30,202.80 C156.57,203.00 157.63,200.63 159.10,197.70 C160.57,194.77 162.22,188.13 164.10,185.20 C165.98,182.27 168.52,179.90 170.40,180.10 C172.28,180.30 173.73,184.72 175.40,186.40 C177.07,188.08 178.72,190.62 180.40,190.20 C182.08,189.78 184.10,186.00 185.50,183.90 C186.90,181.80 187.50,179.40 188.80,177.60 C190.10,175.80 191.83,172.68 193.30,173.10 C194.77,173.52 196.27,176.83 197.60,180.10 C198.93,183.37 199.83,187.25 201.30,192.70 C202.77,198.15 204.72,206.72 206.40,212.80 C208.08,218.88 209.52,223.80 211.40,229.20 C213.28,234.60 215.85,239.73 217.70,245.20 C219.55,250.67 220.92,256.77 222.50,262.00 C224.08,267.23 225.70,276.05 227.20,276.60 C228.70,277.15 230.15,270.95 231.50,265.30 C232.85,259.65 234.12,251.08 235.30,242.70 C236.48,234.32 237.77,221.23 238.60,215.00 C239.43,208.77 239.52,209.43 240.30,205.30 C241.08,201.17 242.33,193.63 243.30,190.20 C244.27,186.77 244.92,184.28 246.10,184.70 C247.28,185.12 249.08,190.32 250.40,192.70 C251.72,195.08 252.75,197.53 254.00,199.00 C255.25,200.47 256.57,201.67 257.90,201.50 C259.23,201.33 260.80,199.05 262.00,198.00 C263.20,196.95 263.75,195.75 265.10,195.20 C266.45,194.65 268.43,194.28 270.10,194.70 C271.77,195.12 273.43,198.23 275.10,197.70 C276.77,197.17 278.63,194.43 280.10,191.50 C281.57,188.57 282.43,183.17 283.90,180.10 C285.37,177.03 287.43,173.10 288.90,173.10 C290.37,173.10 291.43,175.57 292.70,180.10 C293.97,184.63 295.23,194.00 296.50,200.30 C297.77,206.60 298.72,212.78 300.30,217.90 C301.88,223.02 304.33,230.58 306.00,231.00 C307.67,231.42 308.75,224.05 310.30,220.40 C311.85,216.75 313.62,212.03 315.30,209.10 C316.98,206.17 318.72,204.27 320.40,202.80 C322.08,201.33 323.70,201.35 325.40,200.30 C327.10,199.25 329.73,197.13 330.60,196.50" fill="none" stroke="#f2a516" stroke-width="2.0" stroke-linejoin="round" stroke-dasharray="1.95 1.3"/>
</g>
<rect x="29.5" y="160.3" width="301.00" height="126.10" fill="none" stroke="#a8a8a8" stroke-width="1"/>
<line x1="104.75" y1="286.40" x2="104.75" y2="283.40" stroke="#a8a8a8" stroke-width="1" />
<line x1="104.75" y1="160.30" x2="104.75" y2="163.30" stroke="#a8a8a8" stroke-width="1" />
<line x1="180.00" y1="286.40" x2="180.00" y2="283.40" stroke="#a8a8a8" stroke-width="1" />
<line x1="180.00" y1="160.30" x2="180.00" y2="163.30" stroke="#a8a8a8" stroke-width="1" />
<line x1="255.25" y1="286.40" x2="255.25" y2="283.40" stroke="#a8a8a8" stroke-width="1" />
<line x1="255.25" y1="160.30" x2="255.25" y2="163.30" stroke="#a8a8a8" stroke-width="1" />
<line x1="29.50" y1="188.30" x2="32.50" y2="188.30" stroke="#a8a8a8" stroke-width="1" />
<line x1="330.50" y1="188.30" x2="327.50" y2="188.30" stroke="#a8a8a8" stroke-width="1" />
<line x1="29.50" y1="217.10" x2="32.50" y2="217.10" stroke="#a8a8a8" stroke-width="1" />
<line x1="330.50" y1="217.10" x2="327.50" y2="217.10" stroke="#a8a8a8" stroke-width="1" />
<line x1="29.50" y1="245.90" x2="32.50" y2="245.90" stroke="#a8a8a8" stroke-width="1" />
<line x1="330.50" y1="245.90" x2="327.50" y2="245.90" stroke="#a8a8a8" stroke-width="1" />
<line x1="29.50" y1="274.70" x2="32.50" y2="274.70" stroke="#a8a8a8" stroke-width="1" />
<line x1="330.50" y1="274.70" x2="327.50" y2="274.70" stroke="#a8a8a8" stroke-width="1" />
<text x="29.50" y="300.60" font-size="12.2" text-anchor="middle" fill="#1e1e1e" ><tspan dy="-0.00">0</tspan></text>
<text x="104.75" y="300.60" font-size="12.2" text-anchor="middle" fill="#1e1e1e" ><tspan dy="-0.00">5</tspan></text>
<text x="180.00" y="300.60" font-size="12.2" text-anchor="middle" fill="#1e1e1e" ><tspan dy="-0.00">10</tspan></text>
<text x="255.25" y="300.60" font-size="12.2" text-anchor="middle" fill="#1e1e1e" ><tspan dy="-0.00">15</tspan></text>
<text x="330.50" y="300.60" font-size="12.2" text-anchor="middle" fill="#1e1e1e" ><tspan dy="-0.00">20</tspan></text>
<text x="209.50" y="301.50" font-size="15" text-anchor="middle" fill="#1e1e1e" letter-spacing="0.8"><tspan dy="-0.00" font-style="italic">t</tspan><tspan dy="0.00" font-style="italic">J</tspan></text>
<text x="26.20" y="163.80" font-size="12.2" text-anchor="end" fill="#1e1e1e" ><tspan dy="-0.00">0.05</tspan></text>
<text x="26.20" y="192.60" font-size="12.2" text-anchor="end" fill="#1e1e1e" ><tspan dy="-0.00">0</tspan></text>
<text x="26.20" y="221.40" font-size="12.2" text-anchor="end" fill="#1e1e1e" ><tspan dy="-0.00">-0.05</tspan></text>
<text x="26.20" y="250.20" font-size="12.2" text-anchor="end" fill="#1e1e1e" ><tspan dy="-0.00">-0.1</tspan></text>
<text x="26.20" y="279.00" font-size="12.2" text-anchor="end" fill="#1e1e1e" ><tspan dy="-0.00">-0.15</tspan></text>
<text x="31.80" y="174.80" font-size="13.8" text-anchor="start" fill="#1e1e1e" ><tspan dy="-0.00">(c)</tspan></text>
<text transform="translate(8.10,202.30) rotate(-90)" font-size="16" fill="#1e1e1e"><tspan dy="-0.00" font-style="italic">n</tspan></text>
<text transform="translate(10.60,194.20) rotate(-90)" font-size="8.6" fill="#1e1e1e" textLength="17.2" lengthAdjust="spacingAndGlyphs"><tspan dy="-0.00">stag</tspan></text>
<rect x="164.40" y="227.20" width="36.60" height="27.30" fill="#ececec"/>
<text x="165.70" y="234.20" font-size="8.3" text-anchor="start" fill="#1a1a1a" textLength="33.60000000000002" lengthAdjust="spacingAndGlyphs"  stroke="#1a1a1a" stroke-width="0.12"><tspan dy="-0.00" font-style="italic">δ</tspan><tspan dy="0.00">t</tspan><tspan dy="0.00">&#160;</tspan><tspan font-size="10.79" dy="0.4">=</tspan><tspan dy="-0.4">&#160;0.2/</tspan><tspan dy="0.00" font-style="italic">J</tspan></text>
<text x="166.20" y="243.30" font-size="8.3" text-anchor="start" fill="#1a1a1a" textLength="32.10000000000002" lengthAdjust="spacingAndGlyphs"  stroke="#1a1a1a" stroke-width="0.12"><tspan dy="-0.00" font-style="italic">λ</tspan><tspan dy="0.00">/</tspan><tspan dy="0.00" font-style="italic">J</tspan><tspan dy="0.00">&#160;</tspan><tspan font-size="10.79" dy="0.4">=</tspan><tspan dy="-0.4">&#160;0.1</tspan></text>
<text x="166.20" y="251.60" font-size="8.3" text-anchor="start" fill="#1a1a1a" textLength="32.10000000000002" lengthAdjust="spacingAndGlyphs"  stroke="#1a1a1a" stroke-width="0.12"><tspan dy="-0.00" font-style="italic">h</tspan><tspan dy="0.00">/</tspan><tspan dy="0.00" font-style="italic">J</tspan><tspan dy="0.00">&#160;</tspan><tspan font-size="10.79" dy="0.4">=</tspan><tspan dy="-0.4">&#160;0.3</tspan></text>
<rect x="131.60" y="266.20" width="69.40" height="10.30" fill="#ececec"/>
<text x="133.60" y="274.20" font-size="8.3" text-anchor="start" fill="#1a1a1a" textLength="65.0" lengthAdjust="spacingAndGlyphs"  stroke="#1a1a1a" stroke-width="0.12"><tspan dy="-0.00" font-style="italic">c</tspan><tspan dy="1.60" font-size="6.00" font-style="italic">j</tspan><tspan dy="-1.60">&#160;</tspan><tspan font-size="10.79" dy="0.4">=</tspan><tspan dy="-0.4">&#160;[6(−1)</tspan><tspan dy="-3.20" font-size="6.00" font-style="italic">j</tspan><tspan dy="3.20">&#160;+&#160;5]/11</tspan></text>
<line x1="273.9" y1="241.4" x2="285.4" y2="241.4" stroke="#a8102e" stroke-width="2.8" stroke-dasharray="2.6 1.9"/>
<text x="286.50" y="244.30" font-size="8.3" text-anchor="start" fill="#1a1a1a" textLength="27.8" lengthAdjust="spacingAndGlyphs"  stroke="#1a1a1a" stroke-width="0.12"><tspan dy="-0.00" font-style="italic">V</tspan><tspan dy="0.00">/</tspan><tspan dy="0.00" font-style="italic">J</tspan><tspan dy="0.00">&#160;</tspan><tspan font-size="10.79" dy="0.4">=</tspan><tspan dy="-0.4">&#160;0</tspan></text>
<line x1="273.90" y1="250.70" x2="285.40" y2="250.70" stroke="#c9def5" stroke-width="4.4" />
<text x="286.50" y="253.60" font-size="8.3" text-anchor="start" fill="#1a1a1a" textLength="27.8" lengthAdjust="spacingAndGlyphs"  stroke="#1a1a1a" stroke-width="0.12"><tspan dy="-0.00" font-style="italic">V</tspan><tspan dy="0.00">/</tspan><tspan dy="0.00" font-style="italic">J</tspan><tspan dy="0.00">&#160;</tspan><tspan font-size="10.79" dy="0.4">=</tspan><tspan dy="-0.4">&#160;2</tspan></text>
<line x1="273.90" y1="260.30" x2="285.40" y2="260.30" stroke="#4a8fd6" stroke-width="3.8" />
<text x="286.50" y="263.20" font-size="8.3" text-anchor="start" fill="#1a1a1a" textLength="27.8" lengthAdjust="spacingAndGlyphs"  stroke="#1a1a1a" stroke-width="0.12"><tspan dy="-0.00" font-style="italic">V</tspan><tspan dy="0.00">/</tspan><tspan dy="0.00" font-style="italic">J</tspan><tspan dy="0.00">&#160;</tspan><tspan font-size="10.79" dy="0.4">=</tspan><tspan dy="-0.4">&#160;4</tspan></text>
<line x1="273.90" y1="269.10" x2="285.40" y2="269.10" stroke="#26345e" stroke-width="3.3" />
<text x="286.50" y="272.00" font-size="8.3" text-anchor="start" fill="#1a1a1a" textLength="27.8" lengthAdjust="spacingAndGlyphs"  stroke="#1a1a1a" stroke-width="0.12"><tspan dy="-0.00" font-style="italic">V</tspan><tspan dy="0.00">/</tspan><tspan dy="0.00" font-style="italic">J</tspan><tspan dy="0.00">&#160;</tspan><tspan font-size="10.79" dy="0.4">=</tspan><tspan dy="-0.4">&#160;8</tspan></text>
<line x1="273.9" y1="277.9" x2="285.4" y2="277.9" stroke="#f2a516" stroke-width="2.0" stroke-dasharray="1.7 1.2"/>
<text x="286.50" y="280.80" font-size="8.6" text-anchor="start" fill="#1a1a1a" textLength="38.6" lengthAdjust="spacingAndGlyphs"  stroke="#1a1a1a" stroke-width="0.12"><tspan dy="-0.00">ideal&#160;theory</tspan></text>
<clipPath id="cd"><rect x="374.3" y="158.3" width="304.7" height="127.89999999999998"/></clipPath>
<g clip-path="url(#cd)">
<path d="M374.00,284.70 C374.97,282.95 378.27,278.48 379.80,274.20 C381.33,269.92 382.17,263.70 383.20,259.00 C384.23,254.30 385.30,250.10 386.00,246.00 C386.70,241.90 386.42,239.07 387.40,234.40 C388.38,229.73 390.42,222.97 391.90,218.00 C393.38,213.03 394.82,208.82 396.30,204.60 C397.78,200.38 399.85,195.97 400.80,192.70 C401.75,189.43 401.25,187.70 402.00,185.00 C402.75,182.30 404.02,179.08 405.30,176.50 C406.58,173.92 408.22,171.33 409.70,169.50 C411.18,167.67 412.48,166.50 414.20,165.50 C415.92,164.50 418.03,163.83 420.00,163.50 C421.97,163.17 423.85,163.37 426.00,163.50 C428.15,163.63 431.23,163.55 432.90,164.30 C434.57,165.05 434.97,166.53 436.00,168.00 C437.03,169.47 437.53,171.42 439.10,173.10 C440.67,174.78 443.50,176.83 445.40,178.10 C447.30,179.37 448.73,180.48 450.50,180.70 C452.27,180.92 454.40,180.03 456.00,179.40 C457.60,178.77 458.60,177.80 460.10,176.90 C461.60,176.00 463.33,174.92 465.00,174.00 C466.67,173.08 468.60,171.57 470.10,171.40 C471.60,171.23 472.73,172.08 474.00,173.00 C475.27,173.92 475.83,175.00 477.70,176.90 C479.57,178.80 482.27,182.72 485.20,184.40 C488.13,186.08 491.95,186.15 495.30,187.00 C498.65,187.85 501.95,188.05 505.30,189.50 C508.65,190.95 512.25,194.15 515.40,195.70 C518.55,197.25 521.93,198.42 524.20,198.80 C526.47,199.18 527.53,198.52 529.00,198.00 C530.47,197.48 531.58,197.12 533.00,195.70 C534.42,194.28 535.07,191.25 537.50,189.50 C539.93,187.75 544.23,186.33 547.60,185.20 C550.97,184.07 554.80,183.57 557.70,182.70 C560.60,181.83 562.92,180.55 565.00,180.00 C567.08,179.45 568.70,179.23 570.20,179.40 C571.70,179.57 572.73,180.37 574.00,181.00 C575.27,181.63 575.92,182.00 577.80,183.20 C579.68,184.40 582.58,186.53 585.30,188.20 C588.02,189.87 591.37,192.57 594.10,193.20 C596.83,193.83 599.20,192.42 601.70,192.00 C604.20,191.58 606.20,190.70 609.10,190.70 C612.00,190.70 616.17,191.17 619.10,192.00 C622.03,192.83 624.55,194.53 626.70,195.70 C628.85,196.87 629.92,198.23 632.00,199.00 C634.08,199.77 636.32,200.85 639.20,200.30 C642.08,199.75 645.95,197.50 649.30,195.70 C652.65,193.90 655.95,191.38 659.30,189.50 C662.65,187.62 666.08,186.30 669.40,184.40 C672.72,182.50 677.57,179.15 679.20,178.10" fill="none" stroke="#a8102e" stroke-width="2.9" stroke-linejoin="round" stroke-dasharray="2.6 2.0"/>
<path d="M374.80,284.70 C375.22,284.08 376.33,282.75 377.30,281.00 C378.27,279.25 379.42,277.90 380.60,274.20 C381.78,270.50 383.12,263.77 384.40,258.80 C385.68,253.83 386.85,249.03 388.30,244.40 C389.75,239.77 391.75,235.07 393.10,231.00 C394.45,226.93 395.37,223.50 396.40,220.00 C397.43,216.50 398.52,212.93 399.30,210.00 C400.08,207.07 400.25,205.60 401.10,202.40 C401.95,199.20 403.38,194.67 404.40,190.80 C405.42,186.93 406.03,182.72 407.20,179.20 C408.37,175.68 410.13,171.90 411.40,169.70 C412.67,167.50 413.73,166.85 414.80,166.00 C415.87,165.15 416.13,164.92 417.80,164.60 C419.47,164.28 422.52,164.12 424.80,164.10 C427.08,164.08 429.67,163.85 431.50,164.50 C433.33,165.15 434.38,166.08 435.80,168.00 C437.22,169.92 438.77,173.25 440.00,176.00 C441.23,178.75 442.32,182.17 443.20,184.50 C444.08,186.83 444.58,188.00 445.30,190.00 C446.02,192.00 446.50,193.00 447.50,196.50 C448.50,200.00 449.92,204.82 451.30,211.00 C452.68,217.18 454.00,226.27 455.80,233.58 C457.60,240.90 459.92,249.57 462.10,254.87 C464.28,260.18 466.80,265.29 468.90,265.42 C471.00,265.56 472.68,261.09 474.70,255.70 C476.72,250.31 479.43,238.55 481.00,233.10 C482.57,227.65 483.05,225.87 484.10,223.00 C485.15,220.13 485.93,218.98 487.30,215.90 C488.67,212.82 490.63,208.28 492.30,204.50 C493.97,200.72 495.42,196.75 497.30,193.20 C499.18,189.65 501.30,186.55 503.60,183.20 C505.90,179.85 508.38,175.62 511.10,173.10 C513.82,170.58 517.17,168.10 519.90,168.10 C522.63,168.10 525.18,170.17 527.50,173.10 C529.82,176.03 532.25,182.35 533.80,185.70 C535.35,189.05 535.83,190.68 536.80,193.20 C537.77,195.72 538.30,197.02 539.60,200.80 C540.90,204.58 542.82,211.33 544.60,215.90 C546.38,220.47 547.98,223.95 550.30,228.20 C552.62,232.45 556.08,237.74 558.50,241.43 C560.92,245.12 562.72,248.46 564.80,250.35 C566.88,252.25 568.92,253.18 571.00,252.80 C573.08,252.43 575.20,251.46 577.30,248.12 C579.40,244.77 582.13,236.57 583.60,232.71 C585.07,228.86 585.05,228.24 586.10,225.00 C587.15,221.76 588.43,217.97 589.90,213.30 C591.37,208.63 593.23,201.05 594.90,197.00 C596.57,192.95 598.02,191.72 599.90,189.00 C601.78,186.28 604.30,182.30 606.20,180.70 C608.10,179.10 609.43,179.20 611.30,179.40 C613.17,179.60 615.13,180.43 617.40,181.90 C619.67,183.37 622.38,186.10 624.90,188.20 C627.42,190.30 630.18,191.98 632.50,194.50 C634.82,197.02 636.70,199.53 638.80,203.30 C640.90,207.07 643.22,213.41 645.10,217.10 C646.98,220.79 648.85,223.59 650.10,225.41 C651.35,227.23 651.13,226.99 652.60,228.02 C654.07,229.06 656.80,230.97 658.90,231.60 C661.00,232.23 663.10,233.67 665.20,231.82 C667.30,229.97 669.83,223.64 671.50,220.50 C673.17,217.36 673.78,216.28 675.20,213.00 C676.62,209.72 679.20,202.83 680.00,200.80" fill="none" stroke="#c9def5" stroke-width="5.4" stroke-linejoin="round" />
<path d="M374.00,284.70 C374.42,284.08 375.53,282.75 376.50,281.00 C377.47,279.25 378.62,277.90 379.80,274.20 C380.98,270.50 382.32,263.77 383.60,258.80 C384.88,253.83 386.05,249.03 387.50,244.40 C388.95,239.77 390.95,235.07 392.30,231.00 C393.65,226.93 394.57,223.50 395.60,220.00 C396.63,216.50 397.72,212.93 398.50,210.00 C399.28,207.07 399.45,205.60 400.30,202.40 C401.15,199.20 402.58,194.67 403.60,190.80 C404.62,186.93 405.23,182.72 406.40,179.20 C407.57,175.68 409.33,171.90 410.60,169.70 C411.87,167.50 412.93,166.85 414.00,166.00 C415.07,165.15 415.33,164.92 417.00,164.60 C418.67,164.28 421.72,164.12 424.00,164.10 C426.28,164.08 428.87,163.85 430.70,164.50 C432.53,165.15 433.58,166.08 435.00,168.00 C436.42,169.92 437.97,173.25 439.20,176.00 C440.43,178.75 441.52,182.17 442.40,184.50 C443.28,186.83 443.78,188.00 444.50,190.00 C445.22,192.00 445.70,193.00 446.70,196.50 C447.70,200.00 449.12,204.82 450.50,211.00 C451.88,217.18 453.20,226.15 455.00,233.60 C456.80,241.05 459.12,250.12 461.30,255.70 C463.48,261.28 466.00,267.10 468.10,267.10 C470.20,267.10 471.88,261.37 473.90,255.70 C475.92,250.03 478.63,238.55 480.20,233.10 C481.77,227.65 482.25,225.87 483.30,223.00 C484.35,220.13 485.13,218.98 486.50,215.90 C487.87,212.82 489.83,208.28 491.50,204.50 C493.17,200.72 494.62,196.75 496.50,193.20 C498.38,189.65 500.50,186.55 502.80,183.20 C505.10,179.85 507.58,175.62 510.30,173.10 C513.02,170.58 516.37,168.10 519.10,168.10 C521.83,168.10 524.38,170.17 526.70,173.10 C529.02,176.03 531.45,182.35 533.00,185.70 C534.55,189.05 535.03,190.68 536.00,193.20 C536.97,195.72 537.50,197.02 538.80,200.80 C540.10,204.58 542.02,211.33 543.80,215.90 C545.58,220.47 547.18,223.87 549.50,228.20 C551.82,232.53 555.28,237.73 557.70,241.90 C560.12,246.07 561.92,250.55 564.00,253.20 C566.08,255.85 568.12,258.22 570.20,257.80 C572.28,257.38 574.40,254.82 576.50,250.70 C578.60,246.58 581.33,237.38 582.80,233.10 C584.27,228.82 584.25,228.30 585.30,225.00 C586.35,221.70 587.63,217.97 589.10,213.30 C590.57,208.63 592.43,201.05 594.10,197.00 C595.77,192.95 597.22,191.30 599.10,189.00 C600.98,186.70 603.50,184.38 605.40,183.20 C607.30,182.02 608.63,181.70 610.50,181.90 C612.37,182.10 614.33,182.93 616.60,184.40 C618.87,185.87 621.58,188.60 624.10,190.70 C626.62,192.80 629.38,194.48 631.70,197.00 C634.02,199.52 635.90,202.03 638.00,205.80 C640.10,209.57 642.42,215.83 644.30,219.60 C646.18,223.37 648.05,226.35 649.30,228.40 C650.55,230.45 650.33,230.28 651.80,231.90 C653.27,233.52 656.00,237.90 658.10,238.10 C660.20,238.30 662.30,236.03 664.40,233.10 C666.50,230.17 669.03,223.85 670.70,220.50 C672.37,217.15 672.98,216.28 674.40,213.00 C675.82,209.72 678.40,202.83 679.20,200.80" fill="none" stroke="#4a8fd6" stroke-width="4.1" stroke-linejoin="round" />
<path d="M374.00,284.70 C374.42,284.08 375.53,282.75 376.50,281.00 C377.47,279.25 378.62,277.90 379.80,274.20 C380.98,270.50 382.32,263.77 383.60,258.80 C384.88,253.83 386.05,249.03 387.50,244.40 C388.95,239.77 390.95,235.07 392.30,231.00 C393.65,226.93 394.57,223.50 395.60,220.00 C396.63,216.50 397.72,212.93 398.50,210.00 C399.28,207.07 399.45,205.60 400.30,202.40 C401.15,199.20 402.58,194.67 403.60,190.80 C404.62,186.93 405.23,182.72 406.40,179.20 C407.57,175.68 409.33,171.90 410.60,169.70 C411.87,167.50 412.93,166.85 414.00,166.00 C415.07,165.15 415.33,164.92 417.00,164.60 C418.67,164.28 421.72,164.12 424.00,164.10 C426.28,164.08 428.87,163.85 430.70,164.50 C432.53,165.15 433.58,166.08 435.00,168.00 C436.42,169.92 437.97,173.25 439.20,176.00 C440.43,178.75 441.52,182.17 442.40,184.50 C443.28,186.83 443.78,188.00 444.50,190.00 C445.22,192.00 445.70,193.00 446.70,196.50 C447.70,200.00 449.12,204.82 450.50,211.00 C451.88,217.18 453.20,226.15 455.00,233.60 C456.80,241.05 459.12,250.12 461.30,255.70 C463.48,261.28 466.00,267.10 468.10,267.10 C470.20,267.10 471.88,261.37 473.90,255.70 C475.92,250.03 478.63,238.55 480.20,233.10 C481.77,227.65 482.25,225.87 483.30,223.00 C484.35,220.13 485.13,218.98 486.50,215.90 C487.87,212.82 489.83,208.28 491.50,204.50 C493.17,200.72 494.62,196.75 496.50,193.20 C498.38,189.65 500.50,186.55 502.80,183.20 C505.10,179.85 507.58,175.62 510.30,173.10 C513.02,170.58 516.37,168.10 519.10,168.10 C521.83,168.10 524.38,170.17 526.70,173.10 C529.02,176.03 531.45,182.35 533.00,185.70 C534.55,189.05 535.03,190.68 536.00,193.20 C536.97,195.72 537.50,197.02 538.80,200.80 C540.10,204.58 542.02,211.33 543.80,215.90 C545.58,220.47 547.18,223.87 549.50,228.20 C551.82,232.53 555.28,237.73 557.70,241.90 C560.12,246.07 561.92,250.55 564.00,253.20 C566.08,255.85 568.12,258.22 570.20,257.80 C572.28,257.38 574.40,254.82 576.50,250.70 C578.60,246.58 581.33,237.38 582.80,233.10 C584.27,228.82 584.25,228.30 585.30,225.00 C586.35,221.70 587.63,217.97 589.10,213.30 C590.57,208.63 592.43,201.05 594.10,197.00 C595.77,192.95 597.22,191.30 599.10,189.00 C600.98,186.70 603.50,184.38 605.40,183.20 C607.30,182.02 608.63,181.70 610.50,181.90 C612.37,182.10 614.33,182.93 616.60,184.40 C618.87,185.87 621.58,188.60 624.10,190.70 C626.62,192.80 629.38,194.48 631.70,197.00 C634.02,199.52 635.90,202.03 638.00,205.80 C640.10,209.57 642.42,215.83 644.30,219.60 C646.18,223.37 648.05,226.35 649.30,228.40 C650.55,230.45 650.33,230.28 651.80,231.90 C653.27,233.52 656.00,237.90 658.10,238.10 C660.20,238.30 662.30,236.03 664.40,233.10 C666.50,230.17 669.03,223.85 670.70,220.50 C672.37,217.15 672.98,216.28 674.40,213.00 C675.82,209.72 678.40,202.83 679.20,200.80" fill="none" stroke="#26345e" stroke-width="3.3" stroke-linejoin="round" />
<path d="M374.00,284.70 C374.42,284.08 375.53,282.75 376.50,281.00 C377.47,279.25 378.62,277.90 379.80,274.20 C380.98,270.50 382.32,263.77 383.60,258.80 C384.88,253.83 386.05,249.03 387.50,244.40 C388.95,239.77 390.95,235.07 392.30,231.00 C393.65,226.93 394.57,223.50 395.60,220.00 C396.63,216.50 397.72,212.93 398.50,210.00 C399.28,207.07 399.45,205.60 400.30,202.40 C401.15,199.20 402.58,194.67 403.60,190.80 C404.62,186.93 405.23,182.72 406.40,179.20 C407.57,175.68 409.33,171.90 410.60,169.70 C411.87,167.50 412.93,166.85 414.00,166.00 C415.07,165.15 415.33,164.92 417.00,164.60 C418.67,164.28 421.72,164.12 424.00,164.10 C426.28,164.08 428.87,163.85 430.70,164.50 C432.53,165.15 433.58,166.08 435.00,168.00 C436.42,169.92 437.97,173.25 439.20,176.00 C440.43,178.75 441.52,182.17 442.40,184.50 C443.28,186.83 443.78,188.00 444.50,190.00 C445.22,192.00 445.70,193.00 446.70,196.50 C447.70,200.00 449.12,204.82 450.50,211.00 C451.88,217.18 453.20,226.15 455.00,233.60 C456.80,241.05 459.12,250.12 461.30,255.70 C463.48,261.28 466.00,267.10 468.10,267.10 C470.20,267.10 471.88,261.37 473.90,255.70 C475.92,250.03 478.63,238.55 480.20,233.10 C481.77,227.65 482.25,225.87 483.30,223.00 C484.35,220.13 485.13,218.98 486.50,215.90 C487.87,212.82 489.83,208.28 491.50,204.50 C493.17,200.72 494.62,196.75 496.50,193.20 C498.38,189.65 500.50,186.55 502.80,183.20 C505.10,179.85 507.58,175.62 510.30,173.10 C513.02,170.58 516.37,168.10 519.10,168.10 C521.83,168.10 524.38,170.17 526.70,173.10 C529.02,176.03 531.45,182.35 533.00,185.70 C534.55,189.05 535.03,190.68 536.00,193.20 C536.97,195.72 537.50,197.02 538.80,200.80 C540.10,204.58 542.02,211.33 543.80,215.90 C545.58,220.47 547.18,223.87 549.50,228.20 C551.82,232.53 555.28,237.73 557.70,241.90 C560.12,246.07 561.92,250.55 564.00,253.20 C566.08,255.85 568.12,258.22 570.20,257.80 C572.28,257.38 574.40,254.82 576.50,250.70 C578.60,246.58 581.33,237.38 582.80,233.10 C584.27,228.82 584.25,228.30 585.30,225.00 C586.35,221.70 587.63,217.97 589.10,213.30 C590.57,208.63 592.43,201.05 594.10,197.00 C595.77,192.95 597.22,191.30 599.10,189.00 C600.98,186.70 603.50,184.38 605.40,183.20 C607.30,182.02 608.63,181.70 610.50,181.90 C612.37,182.10 614.33,182.93 616.60,184.40 C618.87,185.87 621.58,188.60 624.10,190.70 C626.62,192.80 629.38,194.48 631.70,197.00 C634.02,199.52 635.90,202.03 638.00,205.80 C640.10,209.57 642.42,215.83 644.30,219.60 C646.18,223.37 648.05,226.35 649.30,228.40 C650.55,230.45 650.33,230.28 651.80,231.90 C653.27,233.52 656.00,237.90 658.10,238.10 C660.20,238.30 662.30,236.03 664.40,233.10 C666.50,230.17 669.03,223.85 670.70,220.50 C672.37,217.15 672.98,216.28 674.40,213.00 C675.82,209.72 678.40,202.83 679.20,200.80" fill="none" stroke="#f2a516" stroke-width="2.0" stroke-linejoin="round" stroke-dasharray="1.95 1.3"/>
</g>
<rect x="374.3" y="158.3" width="304.70" height="127.90" fill="none" stroke="#a8a8a8" stroke-width="1"/>
<line x1="450.45" y1="286.20" x2="450.45" y2="283.20" stroke="#a8a8a8" stroke-width="1" />
<line x1="450.45" y1="158.30" x2="450.45" y2="161.30" stroke="#a8a8a8" stroke-width="1" />
<line x1="526.60" y1="286.20" x2="526.60" y2="283.20" stroke="#a8a8a8" stroke-width="1" />
<line x1="526.60" y1="158.30" x2="526.60" y2="161.30" stroke="#a8a8a8" stroke-width="1" />
<line x1="602.75" y1="286.20" x2="602.75" y2="283.20" stroke="#a8a8a8" stroke-width="1" />
<line x1="602.75" y1="158.30" x2="602.75" y2="161.30" stroke="#a8a8a8" stroke-width="1" />
<line x1="374.30" y1="189.20" x2="377.30" y2="189.20" stroke="#a8a8a8" stroke-width="1" />
<line x1="679.00" y1="189.20" x2="676.00" y2="189.20" stroke="#a8a8a8" stroke-width="1" />
<line x1="374.30" y1="230.80" x2="377.30" y2="230.80" stroke="#a8a8a8" stroke-width="1" />
<line x1="679.00" y1="230.80" x2="676.00" y2="230.80" stroke="#a8a8a8" stroke-width="1" />
<line x1="374.30" y1="272.40" x2="377.30" y2="272.40" stroke="#a8a8a8" stroke-width="1" />
<line x1="679.00" y1="272.40" x2="676.00" y2="272.40" stroke="#a8a8a8" stroke-width="1" />
<text x="374.30" y="300.60" font-size="12.2" text-anchor="middle" fill="#1e1e1e" ><tspan dy="-0.00">0</tspan></text>
<text x="450.45" y="300.60" font-size="12.2" text-anchor="middle" fill="#1e1e1e" ><tspan dy="-0.00">5</tspan></text>
<text x="526.60" y="300.60" font-size="12.2" text-anchor="middle" fill="#1e1e1e" ><tspan dy="-0.00">10</tspan></text>
<text x="602.75" y="300.60" font-size="12.2" text-anchor="middle" fill="#1e1e1e" ><tspan dy="-0.00">15</tspan></text>
<text x="678.90" y="300.60" font-size="12.2" text-anchor="middle" fill="#1e1e1e" ><tspan dy="-0.00">20</tspan></text>
<text x="556.50" y="301.50" font-size="15" text-anchor="middle" fill="#1e1e1e" letter-spacing="0.8"><tspan dy="-0.00" font-style="italic">t</tspan><tspan dy="0.00" font-style="italic">J</tspan></text>
<text x="371.20" y="193.50" font-size="12.2" text-anchor="end" fill="#1e1e1e" ><tspan dy="-0.00">-0.2</tspan></text>
<text x="371.20" y="235.10" font-size="12.2" text-anchor="end" fill="#1e1e1e" ><tspan dy="-0.00">-0.4</tspan></text>
<text x="371.20" y="276.70" font-size="12.2" text-anchor="end" fill="#1e1e1e" ><tspan dy="-0.00">-0.6</tspan></text>
<text x="377.20" y="174.40" font-size="13.2" text-anchor="start" fill="#1e1e1e" ><tspan dy="-0.00">(d)</tspan></text>
<text transform="translate(358.80,213.60) rotate(-90)" font-size="15.2" fill="#1e1e1e"><tspan dy="-0.00" font-style="italic">E</tspan></text>
<rect x="503.30" y="228.40" width="35.80" height="26.40" fill="#ececec"/>
<text x="504.50" y="235.20" font-size="8.3" text-anchor="start" fill="#1a1a1a" textLength="33.799999999999955" lengthAdjust="spacingAndGlyphs"  stroke="#1a1a1a" stroke-width="0.12"><tspan dy="-0.00" font-style="italic">δ</tspan><tspan dy="0.00" font-style="italic">t</tspan><tspan dy="0.00">&#160;</tspan><tspan font-size="10.79" dy="0.4">=</tspan><tspan dy="-0.4">&#160;0.2/</tspan><tspan dy="0.00" font-style="italic">J</tspan></text>
<text x="505.90" y="244.80" font-size="8.3" text-anchor="start" fill="#1a1a1a" textLength="31.800000000000068" lengthAdjust="spacingAndGlyphs"  stroke="#1a1a1a" stroke-width="0.12"><tspan dy="-0.00" font-style="italic">λ</tspan><tspan dy="0.00">/</tspan><tspan dy="0.00" font-style="italic">J</tspan><tspan dy="0.00">&#160;</tspan><tspan font-size="10.79" dy="0.4">=</tspan><tspan dy="-0.4">&#160;0.1</tspan></text>
<text x="505.90" y="253.20" font-size="8.3" text-anchor="start" fill="#1a1a1a" textLength="31.800000000000068" lengthAdjust="spacingAndGlyphs"  stroke="#1a1a1a" stroke-width="0.12"><tspan dy="-0.00" font-style="italic">h</tspan><tspan dy="0.00">/</tspan><tspan dy="0.00" font-style="italic">J</tspan><tspan dy="0.00">&#160;</tspan><tspan font-size="10.79" dy="0.4">=</tspan><tspan dy="-0.4">&#160;0.3</tspan></text>
<rect x="477.70" y="268.10" width="69.60" height="9.60" fill="#ececec"/>
<text x="479.70" y="275.60" font-size="8.3" text-anchor="start" fill="#1a1a1a" textLength="66.00000000000006" lengthAdjust="spacingAndGlyphs"  stroke="#1a1a1a" stroke-width="0.12"><tspan dy="-0.00" font-style="italic">c</tspan><tspan dy="1.60" font-size="6.00" font-style="italic">j</tspan><tspan dy="-1.60">&#160;</tspan><tspan font-size="10.79" dy="0.4">=</tspan><tspan dy="-0.4">&#160;[6(−1)</tspan><tspan dy="-3.20" font-size="6.00" font-style="italic">j</tspan><tspan dy="3.20">&#160;+&#160;5]/11</tspan></text>
<line x1="604.5" y1="240.7" x2="616.0" y2="240.7" stroke="#a8102e" stroke-width="2.8" stroke-dasharray="2.6 1.9"/>
<text x="618.60" y="243.60" font-size="8.3" text-anchor="start" fill="#1a1a1a" textLength="27.8" lengthAdjust="spacingAndGlyphs"  stroke="#1a1a1a" stroke-width="0.12"><tspan dy="-0.00" font-style="italic">V</tspan><tspan dy="0.00">/</tspan><tspan dy="0.00" font-style="italic">J</tspan><tspan dy="0.00">&#160;</tspan><tspan font-size="10.79" dy="0.4">=</tspan><tspan dy="-0.4">&#160;0</tspan></text>
<line x1="604.50" y1="250.20" x2="616.00" y2="250.20" stroke="#c9def5" stroke-width="4.4" />
<text x="618.60" y="253.10" font-size="8.3" text-anchor="start" fill="#1a1a1a" textLength="27.8" lengthAdjust="spacingAndGlyphs"  stroke="#1a1a1a" stroke-width="0.12"><tspan dy="-0.00" font-style="italic">V</tspan><tspan dy="0.00">/</tspan><tspan dy="0.00" font-style="italic">J</tspan><tspan dy="0.00">&#160;</tspan><tspan font-size="10.79" dy="0.4">=</tspan><tspan dy="-0.4">&#160;2</tspan></text>
<line x1="604.50" y1="259.50" x2="616.00" y2="259.50" stroke="#4a8fd6" stroke-width="3.8" />
<text x="618.60" y="262.40" font-size="8.3" text-anchor="start" fill="#1a1a1a" textLength="27.8" lengthAdjust="spacingAndGlyphs"  stroke="#1a1a1a" stroke-width="0.12"><tspan dy="-0.00" font-style="italic">V</tspan><tspan dy="0.00">/</tspan><tspan dy="0.00" font-style="italic">J</tspan><tspan dy="0.00">&#160;</tspan><tspan font-size="10.79" dy="0.4">=</tspan><tspan dy="-0.4">&#160;4</tspan></text>
<line x1="604.50" y1="267.80" x2="616.00" y2="267.80" stroke="#26345e" stroke-width="3.3" />
<text x="618.60" y="270.70" font-size="8.3" text-anchor="start" fill="#1a1a1a" textLength="27.8" lengthAdjust="spacingAndGlyphs"  stroke="#1a1a1a" stroke-width="0.12"><tspan dy="-0.00" font-style="italic">V</tspan><tspan dy="0.00">/</tspan><tspan dy="0.00" font-style="italic">J</tspan><tspan dy="0.00">&#160;</tspan><tspan font-size="10.79" dy="0.4">=</tspan><tspan dy="-0.4">&#160;8</tspan></text>
<line x1="604.5" y1="277.6" x2="616.0" y2="277.6" stroke="#f2a516" stroke-width="2.0" stroke-dasharray="1.7 1.2"/>
<text x="618.60" y="280.50" font-size="8.6" text-anchor="start" fill="#1a1a1a" textLength="38.9" lengthAdjust="spacingAndGlyphs"  stroke="#1a1a1a" stroke-width="0.12"><tspan dy="-0.00">ideal&#160;theory</tspan></text>
</svg>
</body></html>
